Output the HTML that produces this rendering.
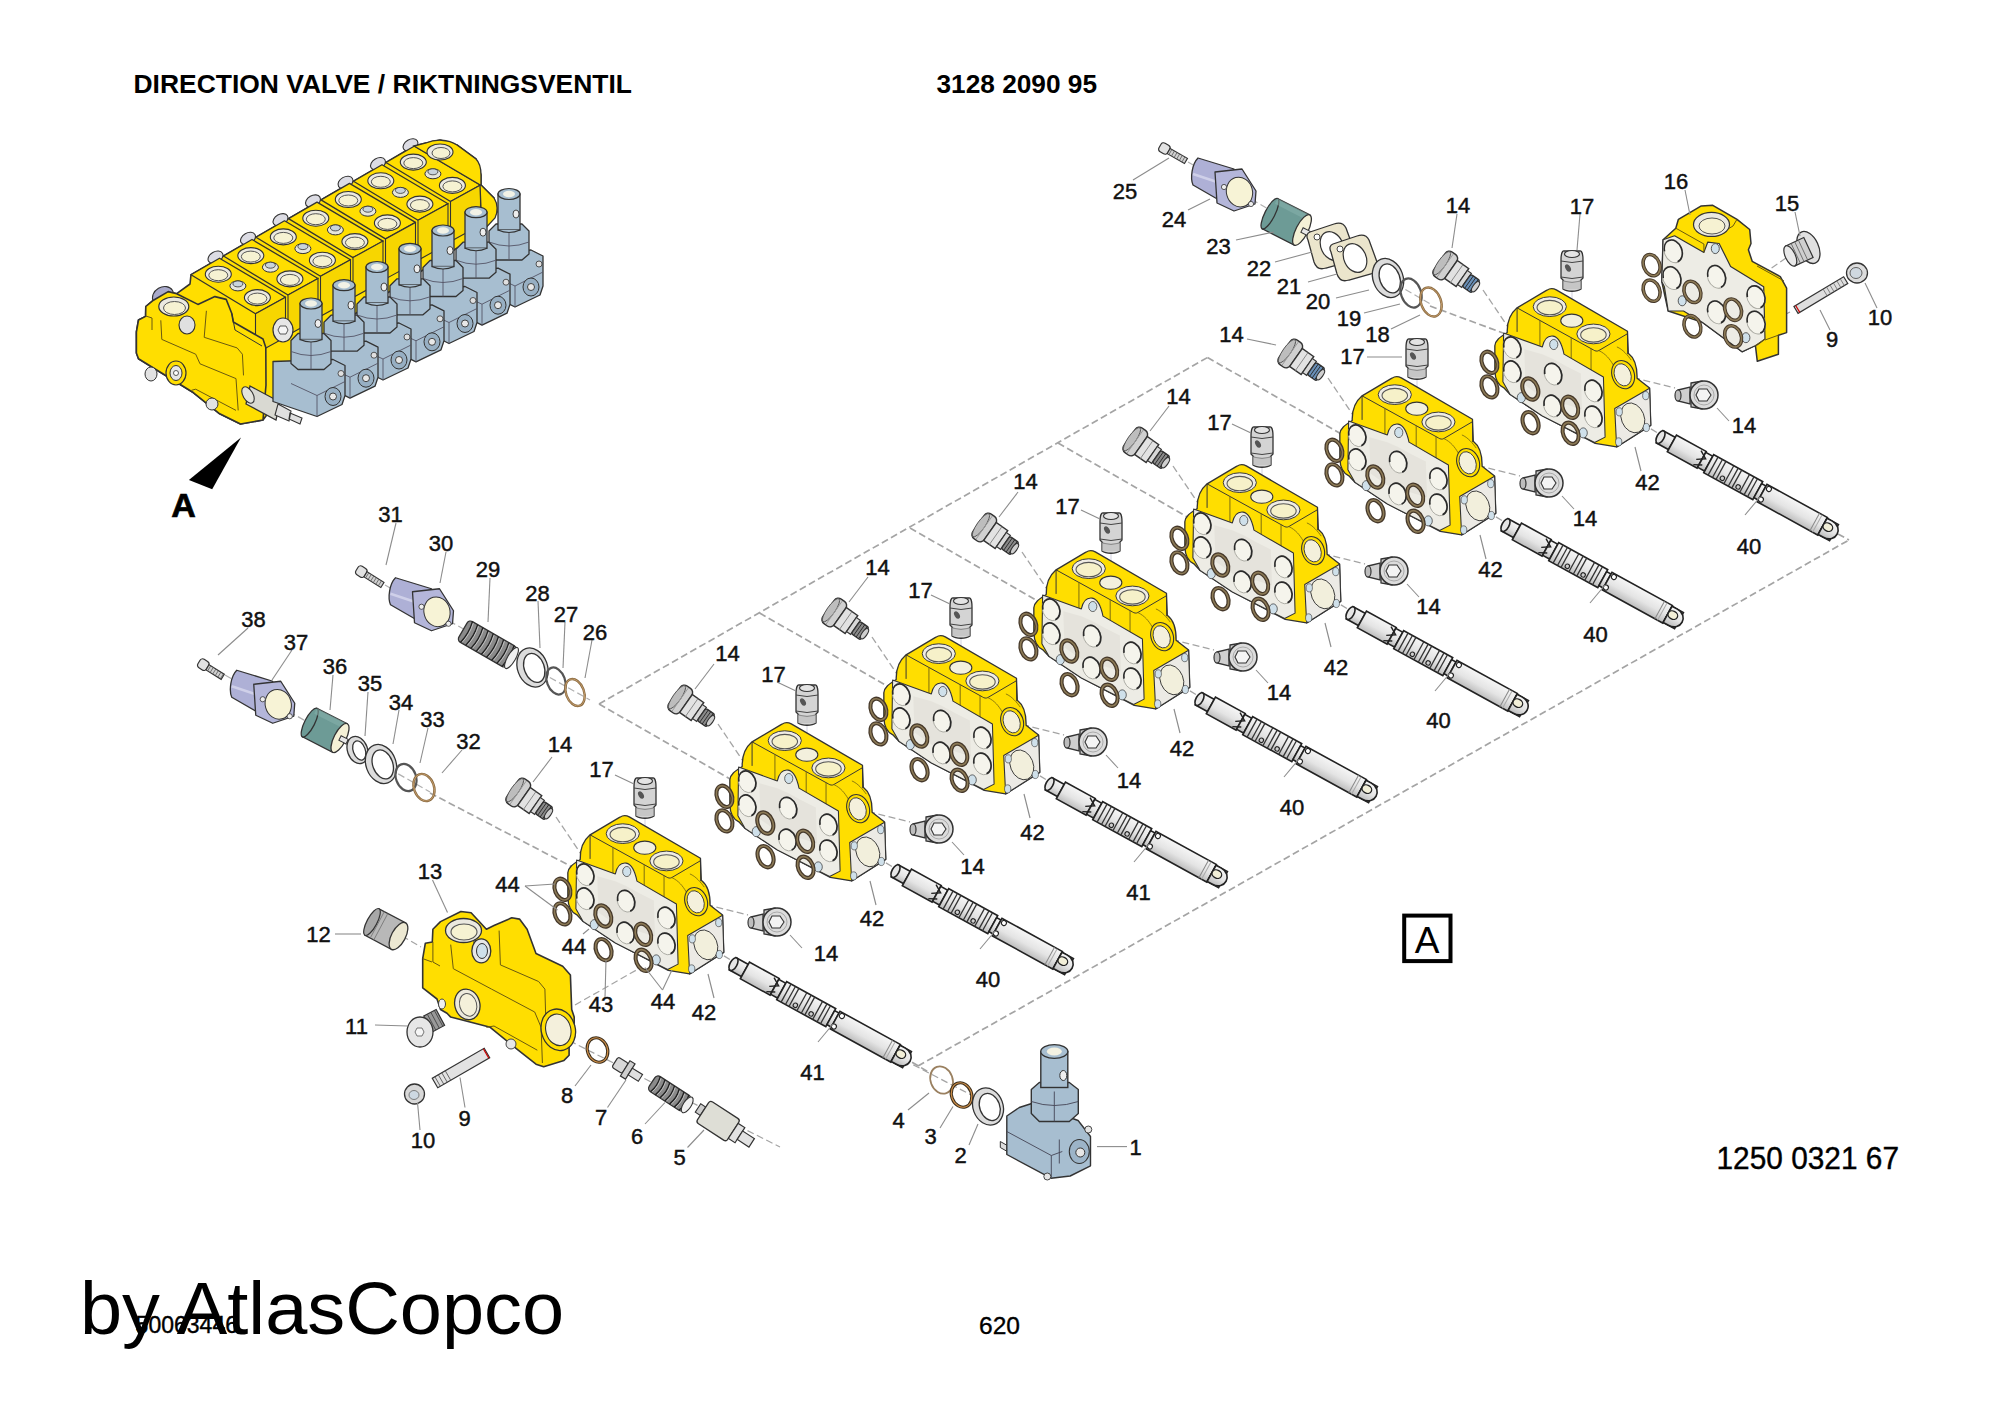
<!DOCTYPE html><html><head><meta charset="utf-8"><style>html,body{margin:0;padding:0;background:#fff}body{width:2000px;height:1414px;position:relative;overflow:hidden}svg{position:absolute;left:0;top:0}</style></head><body><svg width="2000" height="1414" viewBox="0 0 2000 1414" xmlns="http://www.w3.org/2000/svg" font-family="Liberation Sans, sans-serif"><defs><linearGradient id="shg" x1="0" y1="0" x2="0" y2="1"><stop offset="0" stop-color="#f6f6f6"/><stop offset="0.55" stop-color="#e4e4e4"/><stop offset="1" stop-color="#bdbdbd"/></linearGradient><g id="sec" transform="scale(0.12024)"><path d="M165,530 C170,480 215,455 268,420 C265,330 295,262 350,215 L598,68 C622,52 652,52 676,66 L1268,410 L1275,592 C1325,630 1350,700 1348,800 L1452,882 L1462,1192 L1178,1372 L1000,1342 L560,1112 L292,935 L240,880 C195,860 168,810 165,740 Z" fill="#ffde00" stroke="#333" stroke-width="11" stroke-linejoin="round"/><path d="M350,215 L350,415 M350,215 L985,565 C1000,575 1015,578 1030,570 L1268,430 M1268,430 L1270,600" fill="none" stroke="#333" stroke-width="8"/><path d="M540,320 L540,535 M800,462 L800,690 M965,552 L965,770" fill="none" stroke="#7a6a10" stroke-width="8"/><path d="M1030,570 C1090,600 1120,640 1150,690 M1180,540 C1230,560 1270,610 1300,650" fill="none" stroke="#7a6a10" stroke-width="7"/><ellipse cx="622" cy="205" rx="138" ry="82" fill="#efece4" stroke="#333" stroke-width="8"/><ellipse cx="622" cy="213" rx="106" ry="60" fill="#f6f1c9" stroke="#555" stroke-width="9"/><ellipse cx="985" cy="432" rx="138" ry="82" fill="#efece4" stroke="#333" stroke-width="8"/><ellipse cx="985" cy="440" rx="106" ry="60" fill="#f6f1c9" stroke="#555" stroke-width="9"/><ellipse cx="805" cy="322" rx="92" ry="55" fill="#f3f0dd" stroke="#333" stroke-width="9"/><ellipse cx="1232" cy="770" rx="92" ry="120" transform="rotate(-20 1232 770)" fill="#ffde00" stroke="#333" stroke-width="9"/><ellipse cx="1228" cy="772" rx="68" ry="95" transform="rotate(-20 1228 772)" fill="#f4f0dc" stroke="#333" stroke-width="7"/><path d="M238,425 L560,540 C575,470 610,445 650,450 C695,458 720,500 740,600 L1068,790 L1082,1290 L995,1335 L560,1115 L292,935 L232,830 Z" fill="#edece5" stroke="#333" stroke-width="9" stroke-linejoin="round"/><path d="M410,560 L560,600 L650,640 L760,700 L880,760 L890,1060 L700,1000 L560,960 L420,860 Z" fill="#d8d5cb" opacity="0.35"/><path d="M1162,1052 L1452,884 L1462,1192 L1178,1372 Z" fill="#eceae5" stroke="#333" stroke-width="9" stroke-linejoin="round"/><ellipse cx="1312" cy="1130" rx="95" ry="128" transform="rotate(-22 1312 1130)" fill="#f2efdc" stroke="#333" stroke-width="7"/><ellipse cx="1200" cy="1080" rx="26" ry="34" fill="#cfe0ea" stroke="#333" stroke-width="5"/><ellipse cx="1420" cy="945" rx="26" ry="34" fill="#cfe0ea" stroke="#333" stroke-width="5"/><ellipse cx="1425" cy="1210" rx="26" ry="34" fill="#cfe0ea" stroke="#333" stroke-width="5"/><ellipse cx="1195" cy="1330" rx="26" ry="34" fill="#cfe0ea" stroke="#333" stroke-width="5"/><ellipse cx="310" cy="545" rx="72" ry="95" transform="rotate(-22 310 545)" fill="#f5f4ec" stroke="#a8a8a0" stroke-width="7"/><ellipse cx="310" cy="545" rx="68" ry="91" transform="rotate(-22 310 545)" fill="none" stroke="#2a2a2a" stroke-width="14" pathLength="100" stroke-dasharray="25 30 45 0"/><ellipse cx="310" cy="745" rx="72" ry="95" transform="rotate(-22 310 745)" fill="#f5f4ec" stroke="#a8a8a0" stroke-width="7"/><ellipse cx="310" cy="745" rx="68" ry="91" transform="rotate(-22 310 745)" fill="none" stroke="#2a2a2a" stroke-width="14" pathLength="100" stroke-dasharray="25 30 45 0"/><ellipse cx="650" cy="765" rx="72" ry="95" transform="rotate(-22 650 765)" fill="#f5f4ec" stroke="#a8a8a0" stroke-width="7"/><ellipse cx="650" cy="765" rx="68" ry="91" transform="rotate(-22 650 765)" fill="none" stroke="#2a2a2a" stroke-width="14" pathLength="100" stroke-dasharray="25 30 45 0"/><ellipse cx="645" cy="1030" rx="72" ry="95" transform="rotate(-22 645 1030)" fill="#f5f4ec" stroke="#a8a8a0" stroke-width="7"/><ellipse cx="645" cy="1030" rx="68" ry="91" transform="rotate(-22 645 1030)" fill="none" stroke="#2a2a2a" stroke-width="14" pathLength="100" stroke-dasharray="25 30 45 0"/><ellipse cx="985" cy="905" rx="72" ry="95" transform="rotate(-22 985 905)" fill="#f5f4ec" stroke="#a8a8a0" stroke-width="7"/><ellipse cx="985" cy="905" rx="68" ry="91" transform="rotate(-22 985 905)" fill="none" stroke="#2a2a2a" stroke-width="14" pathLength="100" stroke-dasharray="25 30 45 0"/><ellipse cx="985" cy="1120" rx="72" ry="95" transform="rotate(-22 985 1120)" fill="#f5f4ec" stroke="#a8a8a0" stroke-width="7"/><ellipse cx="985" cy="1120" rx="68" ry="91" transform="rotate(-22 985 1120)" fill="none" stroke="#2a2a2a" stroke-width="14" pathLength="100" stroke-dasharray="25 30 45 0"/><ellipse cx="655" cy="520" rx="34" ry="42" fill="#cfe0ea" stroke="#333" stroke-width="6"/><ellipse cx="385" cy="962" rx="34" ry="42" fill="#cfe0ea" stroke="#333" stroke-width="6"/><ellipse cx="900" cy="1255" rx="34" ry="42" fill="#cfe0ea" stroke="#333" stroke-width="6"/><ellipse cx="120" cy="668" rx="62" ry="92" transform="rotate(-22 120 668)" fill="none" stroke="#45382a" stroke-width="34"/><ellipse cx="120" cy="668" rx="62" ry="92" transform="rotate(-22 120 668)" fill="none" stroke="#8c7a56" stroke-width="13"/><ellipse cx="120" cy="872" rx="62" ry="92" transform="rotate(-22 120 872)" fill="none" stroke="#45382a" stroke-width="34"/><ellipse cx="120" cy="872" rx="62" ry="92" transform="rotate(-22 120 872)" fill="none" stroke="#8c7a56" stroke-width="13"/><ellipse cx="460" cy="890" rx="62" ry="92" transform="rotate(-22 460 890)" fill="none" stroke="#45382a" stroke-width="34"/><ellipse cx="460" cy="890" rx="62" ry="92" transform="rotate(-22 460 890)" fill="none" stroke="#8c7a56" stroke-width="13"/><ellipse cx="792" cy="1042" rx="62" ry="92" transform="rotate(-22 792 1042)" fill="none" stroke="#45382a" stroke-width="34"/><ellipse cx="792" cy="1042" rx="62" ry="92" transform="rotate(-22 792 1042)" fill="none" stroke="#8c7a56" stroke-width="13"/><ellipse cx="462" cy="1170" rx="62" ry="92" transform="rotate(-22 462 1170)" fill="none" stroke="#45382a" stroke-width="34"/><ellipse cx="462" cy="1170" rx="62" ry="92" transform="rotate(-22 462 1170)" fill="none" stroke="#8c7a56" stroke-width="13"/><ellipse cx="795" cy="1258" rx="62" ry="92" transform="rotate(-22 795 1258)" fill="none" stroke="#45382a" stroke-width="34"/><ellipse cx="795" cy="1258" rx="62" ry="92" transform="rotate(-22 795 1258)" fill="none" stroke="#8c7a56" stroke-width="13"/></g><g id="shaft"><rect x="0" y="-6.2" width="14" height="14" fill="url(#shg)" stroke="#222" stroke-width="1.6"/><rect x="14" y="-8.7" width="34" height="19.0" fill="url(#shg)" stroke="#222" stroke-width="1.6"/><rect x="48" y="-7.7" width="8" height="17.0" fill="url(#shg)" stroke="#222" stroke-width="1.6"/><rect x="56" y="-9.5" width="56" height="20.6" fill="url(#shg)" stroke="#222" stroke-width="1.6"/><rect x="112" y="-7.2" width="5" height="16" fill="url(#shg)" stroke="#222" stroke-width="1.6"/><rect x="117" y="-9.2" width="69" height="20" fill="url(#shg)" stroke="#222" stroke-width="1.6"/><rect x="186" y="-8.399999999999999" width="13" height="18.4" fill="url(#shg)" stroke="#222" stroke-width="1.6"/><ellipse cx="1" cy="0.8" rx="3.5" ry="7" fill="#e6e6e6" stroke="#222" stroke-width="1.6"/><path d="M186,-8.4 L192,-8.4 C206,-8.4 206,10 192,10 L186,10 Z" fill="url(#shg)" stroke="#222" stroke-width="1.6"/><line x1="61" y1="-9.5" x2="61" y2="11.1" stroke="#333" stroke-width="1.3"/><line x1="66" y1="-9.5" x2="66" y2="11.1" stroke="#333" stroke-width="1.3"/><line x1="70" y1="-9.5" x2="70" y2="11.1" stroke="#333" stroke-width="1.3"/><line x1="79" y1="-9.5" x2="79" y2="11.1" stroke="#333" stroke-width="1.3"/><line x1="84" y1="-9.5" x2="84" y2="11.1" stroke="#333" stroke-width="1.3"/><line x1="88" y1="-9.5" x2="88" y2="11.1" stroke="#333" stroke-width="1.3"/><line x1="97" y1="-9.5" x2="97" y2="11.1" stroke="#333" stroke-width="1.3"/><line x1="102" y1="-9.5" x2="102" y2="11.1" stroke="#333" stroke-width="1.3"/><line x1="106" y1="-9.5" x2="106" y2="11.1" stroke="#333" stroke-width="1.3"/><path d="M43,-7 L51,-2 L43,3 M43,9 L51,5" fill="none" stroke="#222" stroke-width="1.4"/><circle cx="75" cy="7" r="2.2" fill="none" stroke="#222" stroke-width="1.1"/><circle cx="93" cy="7" r="2.2" fill="none" stroke="#222" stroke-width="1.1"/><circle cx="121" cy="-6" r="2.5" fill="#fff" stroke="#222" stroke-width="1.1"/><circle cx="119" cy="7" r="2.5" fill="#fff" stroke="#222" stroke-width="1.1"/><line x1="177" y1="-9.2" x2="177" y2="10.8" stroke="#888" stroke-width="1"/><line x1="180" y1="-9.2" x2="180" y2="10.8" stroke="#aaa" stroke-width="1"/><ellipse cx="191" cy="-1" rx="5" ry="4" fill="#f2efd8" stroke="#222" stroke-width="1.3"/></g></defs><g><line x1="599" y1="704" x2="1207.5" y2="357.5" stroke="#a4a4a4" stroke-width="1.7" stroke-dasharray="7 3.5"/><line x1="599" y1="704" x2="739" y2="784" stroke="#a4a4a4" stroke-width="1.7" stroke-dasharray="7 3.5"/><line x1="759.5" y1="613" x2="899.5" y2="693" stroke="#a4a4a4" stroke-width="1.7" stroke-dasharray="7 3.5"/><line x1="910" y1="528" x2="1050" y2="608" stroke="#a4a4a4" stroke-width="1.7" stroke-dasharray="7 3.5"/><line x1="1058" y1="443" x2="1198" y2="523" stroke="#a4a4a4" stroke-width="1.7" stroke-dasharray="7 3.5"/><line x1="1207.5" y1="357.5" x2="1347.5" y2="437.5" stroke="#a4a4a4" stroke-width="1.7" stroke-dasharray="7 3.5"/><line x1="430" y1="793" x2="578" y2="870" stroke="#a4a4a4" stroke-width="1.7" stroke-dasharray="7 3.5"/><line x1="1430" y1="306" x2="1503" y2="333" stroke="#a4a4a4" stroke-width="1.7" stroke-dasharray="7 3.5"/><line x1="918" y1="1066" x2="1849" y2="540" stroke="#a4a4a4" stroke-width="1.7" stroke-dasharray="7 3.5"/><line x1="1838" y1="534" x2="1849" y2="540" stroke="#a4a4a4" stroke-width="1.7" stroke-dasharray="7 3.5"/><line x1="903" y1="1057" x2="932" y2="1074" stroke="#a4a4a4" stroke-width="1.7" stroke-dasharray="7 3.5"/><line x1="385" y1="585" x2="590" y2="700" stroke="#b0b0b0" stroke-width="1.2" stroke-dasharray="7 3.5"/><line x1="225" y1="675" x2="430" y2="792" stroke="#b0b0b0" stroke-width="1.2" stroke-dasharray="7 3.5"/><line x1="1188" y1="162" x2="1432" y2="305" stroke="#b0b0b0" stroke-width="1.2" stroke-dasharray="7 3.5"/><line x1="556" y1="817" x2="583" y2="857" stroke="#a4a4a4" stroke-width="1.3" stroke-dasharray="7 3.5"/><line x1="696" y1="902" x2="748" y2="915" stroke="#a4a4a4" stroke-width="1.3" stroke-dasharray="7 3.5"/><line x1="706" y1="945" x2="734" y2="962" stroke="#a4a4a4" stroke-width="1.3" stroke-dasharray="7 3.5"/><line x1="645" y1="817" x2="645" y2="849" stroke="#ffffff" stroke-width="2.2"/><line x1="645" y1="817" x2="645" y2="849" stroke="#c8c8d8" stroke-width="0.8"/><line x1="718" y1="724" x2="745" y2="764" stroke="#a4a4a4" stroke-width="1.3" stroke-dasharray="7 3.5"/><line x1="858" y1="809" x2="910" y2="822" stroke="#a4a4a4" stroke-width="1.3" stroke-dasharray="7 3.5"/><line x1="868" y1="852" x2="896" y2="869" stroke="#a4a4a4" stroke-width="1.3" stroke-dasharray="7 3.5"/><line x1="807" y1="724" x2="807" y2="756" stroke="#ffffff" stroke-width="2.2"/><line x1="807" y1="724" x2="807" y2="756" stroke="#c8c8d8" stroke-width="0.8"/><line x1="872" y1="637" x2="899" y2="677" stroke="#a4a4a4" stroke-width="1.3" stroke-dasharray="7 3.5"/><line x1="1012" y1="722" x2="1064" y2="735" stroke="#a4a4a4" stroke-width="1.3" stroke-dasharray="7 3.5"/><line x1="1022" y1="765" x2="1050" y2="782" stroke="#a4a4a4" stroke-width="1.3" stroke-dasharray="7 3.5"/><line x1="961" y1="637" x2="961" y2="669" stroke="#ffffff" stroke-width="2.2"/><line x1="961" y1="637" x2="961" y2="669" stroke="#c8c8d8" stroke-width="0.8"/><line x1="1022" y1="552" x2="1049" y2="592" stroke="#a4a4a4" stroke-width="1.3" stroke-dasharray="7 3.5"/><line x1="1162" y1="637" x2="1214" y2="650" stroke="#a4a4a4" stroke-width="1.3" stroke-dasharray="7 3.5"/><line x1="1172" y1="680" x2="1200" y2="697" stroke="#a4a4a4" stroke-width="1.3" stroke-dasharray="7 3.5"/><line x1="1111" y1="552" x2="1111" y2="584" stroke="#ffffff" stroke-width="2.2"/><line x1="1111" y1="552" x2="1111" y2="584" stroke="#c8c8d8" stroke-width="0.8"/><line x1="1173" y1="466" x2="1200" y2="506" stroke="#a4a4a4" stroke-width="1.3" stroke-dasharray="7 3.5"/><line x1="1313" y1="551" x2="1365" y2="564" stroke="#a4a4a4" stroke-width="1.3" stroke-dasharray="7 3.5"/><line x1="1323" y1="594" x2="1351" y2="611" stroke="#a4a4a4" stroke-width="1.3" stroke-dasharray="7 3.5"/><line x1="1262" y1="466" x2="1262" y2="498" stroke="#ffffff" stroke-width="2.2"/><line x1="1262" y1="466" x2="1262" y2="498" stroke="#c8c8d8" stroke-width="0.8"/><line x1="1328" y1="378" x2="1355" y2="418" stroke="#a4a4a4" stroke-width="1.3" stroke-dasharray="7 3.5"/><line x1="1468" y1="463" x2="1520" y2="476" stroke="#a4a4a4" stroke-width="1.3" stroke-dasharray="7 3.5"/><line x1="1478" y1="506" x2="1506" y2="523" stroke="#a4a4a4" stroke-width="1.3" stroke-dasharray="7 3.5"/><line x1="1417" y1="378" x2="1417" y2="410" stroke="#ffffff" stroke-width="2.2"/><line x1="1417" y1="378" x2="1417" y2="410" stroke="#c8c8d8" stroke-width="0.8"/><line x1="1483" y1="290" x2="1510" y2="330" stroke="#a4a4a4" stroke-width="1.3" stroke-dasharray="7 3.5"/><line x1="1623" y1="375" x2="1675" y2="388" stroke="#a4a4a4" stroke-width="1.3" stroke-dasharray="7 3.5"/><line x1="1633" y1="418" x2="1661" y2="435" stroke="#a4a4a4" stroke-width="1.3" stroke-dasharray="7 3.5"/><line x1="1572" y1="290" x2="1572" y2="322" stroke="#ffffff" stroke-width="2.2"/><line x1="1572" y1="290" x2="1572" y2="322" stroke="#c8c8d8" stroke-width="0.8"/><line x1="402" y1="936" x2="421" y2="947" stroke="#a4a4a4" stroke-width="1.2" stroke-dasharray="7 3.5"/><line x1="437" y1="1080" x2="470" y2="1060" stroke="#a4a4a4" stroke-width="1.2" stroke-dasharray="7 3.5"/><line x1="575" y1="1005" x2="640" y2="968" stroke="#a4a4a4" stroke-width="1.2" stroke-dasharray="7 3.5"/><line x1="560" y1="1036" x2="780" y2="1147" stroke="#a4a4a4" stroke-width="1.2" stroke-dasharray="7 3.5"/><line x1="1786" y1="258" x2="1760" y2="276" stroke="#a4a4a4" stroke-width="1.2" stroke-dasharray="7 3.5"/><line x1="1790" y1="312" x2="1778" y2="318" stroke="#a4a4a4" stroke-width="1.2" stroke-dasharray="7 3.5"/><line x1="904" y1="1060" x2="1000" y2="1110" stroke="#a4a4a4" stroke-width="1.2" stroke-dasharray="7 3.5"/></g><polygon points="136.4,332.0 138.5,320.0 145.6,316.4 145.8,306.5 152.6,300.8 168.2,291.6 176.7,293.7 190.0,284.0 191.0,274.7 219.5,258.2 223.5,256.0 252.0,239.5 256.0,237.3 284.5,220.8 288.5,218.6 317.0,202.1 321.0,199.9 349.5,183.4 353.5,181.2 382.0,164.7 386.0,162.5 414.0,146.0 426.0,143.0 440.0,140.0 457.0,145.0 476.0,159.0 481.0,175.0 481.0,185.0 494.0,198.0 497.0,212.0 482.0,232.0 330.0,330.0 263.0,420.0 240.5,424.0 219.7,413.8 193.6,392.8 138.5,358.8 136.4,353.0" fill="#ffde00" stroke="#333" stroke-width="1.6" stroke-linejoin="round"/><ellipse cx="215.5" cy="257.2" rx="8" ry="5.5" transform="rotate(-30 215.5 257.2)" fill="#dcdce4" stroke="#333" stroke-width="1.1"/><ellipse cx="248.0" cy="238.5" rx="8" ry="5.5" transform="rotate(-30 248.0 238.5)" fill="#dcdce4" stroke="#333" stroke-width="1.1"/><ellipse cx="280.5" cy="219.8" rx="8" ry="5.5" transform="rotate(-30 280.5 219.8)" fill="#dcdce4" stroke="#333" stroke-width="1.1"/><ellipse cx="313.0" cy="201.1" rx="8" ry="5.5" transform="rotate(-30 313.0 201.1)" fill="#dcdce4" stroke="#333" stroke-width="1.1"/><ellipse cx="345.5" cy="182.4" rx="8" ry="5.5" transform="rotate(-30 345.5 182.4)" fill="#dcdce4" stroke="#333" stroke-width="1.1"/><ellipse cx="378.0" cy="163.7" rx="8" ry="5.5" transform="rotate(-30 378.0 163.7)" fill="#dcdce4" stroke="#333" stroke-width="1.1"/><ellipse cx="410.5" cy="145.0" rx="8" ry="5.5" transform="rotate(-30 410.5 145.0)" fill="#dcdce4" stroke="#333" stroke-width="1.1"/><polygon points="191.0,274.7 219.5,258.2 285.5,297.2 255.5,313.7" fill="#ffde00" stroke="#333" stroke-width="1.3" stroke-linejoin="round"/><polygon points="255.5,313.7 285.5,297.2 285.5,337.2 255.5,353.7" fill="#f7d600" stroke="#333" stroke-width="1.1"/><ellipse cx="218.3" cy="274.2" rx="13" ry="8" fill="#ebe9e0" stroke="#333" stroke-width="1.1"/><ellipse cx="218.3" cy="275.2" rx="9.5" ry="5.5" fill="#f6f2d2" stroke="#555" stroke-width="1"/><ellipse cx="237.9" cy="285.9" rx="8" ry="5" fill="#e6e6dc" stroke="#333" stroke-width="1"/><ellipse cx="237.9" cy="283.9" rx="5" ry="3" fill="#c9d4dc" stroke="#333" stroke-width="0.8"/><ellipse cx="257.4" cy="297.6" rx="13" ry="8" fill="#ebe9e0" stroke="#333" stroke-width="1.1"/><ellipse cx="257.4" cy="298.6" rx="9.5" ry="5.5" fill="#f6f2d2" stroke="#555" stroke-width="1"/><polygon points="223.5,256.0 252.0,239.5 318.0,278.5 288.0,295.0" fill="#ffde00" stroke="#333" stroke-width="1.3" stroke-linejoin="round"/><polygon points="288.0,295.0 318.0,278.5 318.0,318.5 288.0,335.0" fill="#f7d600" stroke="#333" stroke-width="1.1"/><ellipse cx="250.8" cy="255.6" rx="13" ry="8" fill="#ebe9e0" stroke="#333" stroke-width="1.1"/><ellipse cx="250.8" cy="256.6" rx="9.5" ry="5.5" fill="#f6f2d2" stroke="#555" stroke-width="1"/><ellipse cx="270.4" cy="267.2" rx="8" ry="5" fill="#e6e6dc" stroke="#333" stroke-width="1"/><ellipse cx="270.4" cy="265.2" rx="5" ry="3" fill="#c9d4dc" stroke="#333" stroke-width="0.8"/><ellipse cx="289.9" cy="278.9" rx="13" ry="8" fill="#ebe9e0" stroke="#333" stroke-width="1.1"/><ellipse cx="289.9" cy="279.9" rx="9.5" ry="5.5" fill="#f6f2d2" stroke="#555" stroke-width="1"/><polygon points="256.0,237.3 284.5,220.8 350.5,259.8 320.5,276.3" fill="#ffde00" stroke="#333" stroke-width="1.3" stroke-linejoin="round"/><polygon points="320.5,276.3 350.5,259.8 350.5,299.8 320.5,316.3" fill="#f7d600" stroke="#333" stroke-width="1.1"/><ellipse cx="283.3" cy="236.9" rx="13" ry="8" fill="#ebe9e0" stroke="#333" stroke-width="1.1"/><ellipse cx="283.3" cy="237.9" rx="9.5" ry="5.5" fill="#f6f2d2" stroke="#555" stroke-width="1"/><ellipse cx="302.9" cy="248.6" rx="8" ry="5" fill="#e6e6dc" stroke="#333" stroke-width="1"/><ellipse cx="302.9" cy="246.6" rx="5" ry="3" fill="#c9d4dc" stroke="#333" stroke-width="0.8"/><ellipse cx="322.4" cy="260.2" rx="13" ry="8" fill="#ebe9e0" stroke="#333" stroke-width="1.1"/><ellipse cx="322.4" cy="261.2" rx="9.5" ry="5.5" fill="#f6f2d2" stroke="#555" stroke-width="1"/><polygon points="288.5,218.6 317.0,202.1 383.0,241.1 353.0,257.6" fill="#ffde00" stroke="#333" stroke-width="1.3" stroke-linejoin="round"/><polygon points="353.0,257.6 383.0,241.1 383.0,281.1 353.0,297.6" fill="#f7d600" stroke="#333" stroke-width="1.1"/><ellipse cx="315.8" cy="218.2" rx="13" ry="8" fill="#ebe9e0" stroke="#333" stroke-width="1.1"/><ellipse cx="315.8" cy="219.2" rx="9.5" ry="5.5" fill="#f6f2d2" stroke="#555" stroke-width="1"/><ellipse cx="335.4" cy="229.9" rx="8" ry="5" fill="#e6e6dc" stroke="#333" stroke-width="1"/><ellipse cx="335.4" cy="227.9" rx="5" ry="3" fill="#c9d4dc" stroke="#333" stroke-width="0.8"/><ellipse cx="354.9" cy="241.6" rx="13" ry="8" fill="#ebe9e0" stroke="#333" stroke-width="1.1"/><ellipse cx="354.9" cy="242.6" rx="9.5" ry="5.5" fill="#f6f2d2" stroke="#555" stroke-width="1"/><polygon points="321.0,199.9 349.5,183.4 415.5,222.4 385.5,238.9" fill="#ffde00" stroke="#333" stroke-width="1.3" stroke-linejoin="round"/><polygon points="385.5,238.9 415.5,222.4 415.5,262.4 385.5,278.9" fill="#f7d600" stroke="#333" stroke-width="1.1"/><ellipse cx="348.3" cy="199.5" rx="13" ry="8" fill="#ebe9e0" stroke="#333" stroke-width="1.1"/><ellipse cx="348.3" cy="200.5" rx="9.5" ry="5.5" fill="#f6f2d2" stroke="#555" stroke-width="1"/><ellipse cx="367.9" cy="211.2" rx="8" ry="5" fill="#e6e6dc" stroke="#333" stroke-width="1"/><ellipse cx="367.9" cy="209.2" rx="5" ry="3" fill="#c9d4dc" stroke="#333" stroke-width="0.8"/><ellipse cx="387.4" cy="222.9" rx="13" ry="8" fill="#ebe9e0" stroke="#333" stroke-width="1.1"/><ellipse cx="387.4" cy="223.9" rx="9.5" ry="5.5" fill="#f6f2d2" stroke="#555" stroke-width="1"/><polygon points="353.5,181.2 382.0,164.7 448.0,203.7 418.0,220.2" fill="#ffde00" stroke="#333" stroke-width="1.3" stroke-linejoin="round"/><polygon points="418.0,220.2 448.0,203.7 448.0,243.7 418.0,260.2" fill="#f7d600" stroke="#333" stroke-width="1.1"/><ellipse cx="380.8" cy="180.8" rx="13" ry="8" fill="#ebe9e0" stroke="#333" stroke-width="1.1"/><ellipse cx="380.8" cy="181.8" rx="9.5" ry="5.5" fill="#f6f2d2" stroke="#555" stroke-width="1"/><ellipse cx="400.4" cy="192.4" rx="8" ry="5" fill="#e6e6dc" stroke="#333" stroke-width="1"/><ellipse cx="400.4" cy="190.4" rx="5" ry="3" fill="#c9d4dc" stroke="#333" stroke-width="0.8"/><ellipse cx="419.9" cy="204.1" rx="13" ry="8" fill="#ebe9e0" stroke="#333" stroke-width="1.1"/><ellipse cx="419.9" cy="205.1" rx="9.5" ry="5.5" fill="#f6f2d2" stroke="#555" stroke-width="1"/><polygon points="386.0,162.5 414.5,146.0 480.5,185.0 450.5,201.5" fill="#ffde00" stroke="#333" stroke-width="1.3" stroke-linejoin="round"/><polygon points="450.5,201.5 480.5,185.0 480.5,225.0 450.5,241.5" fill="#f7d600" stroke="#333" stroke-width="1.1"/><ellipse cx="413.3" cy="162.1" rx="13" ry="8" fill="#ebe9e0" stroke="#333" stroke-width="1.1"/><ellipse cx="413.3" cy="163.1" rx="9.5" ry="5.5" fill="#f6f2d2" stroke="#555" stroke-width="1"/><ellipse cx="432.9" cy="173.8" rx="8" ry="5" fill="#e6e6dc" stroke="#333" stroke-width="1"/><ellipse cx="432.9" cy="171.8" rx="5" ry="3" fill="#c9d4dc" stroke="#333" stroke-width="0.8"/><ellipse cx="452.4" cy="185.4" rx="13" ry="8" fill="#ebe9e0" stroke="#333" stroke-width="1.1"/><ellipse cx="452.4" cy="186.4" rx="9.5" ry="5.5" fill="#f6f2d2" stroke="#555" stroke-width="1"/><path d="M414,146 L426,143 C435,139 448,139 457,145 L476,159 C480,163 481,168 481,175 L481,185 L494,198 C498,204 498,212 495,218 L482,232 L480,185 Z" fill="#ffde00" stroke="#333" stroke-width="1.3"/><ellipse cx="440" cy="152" rx="13" ry="8" fill="#ebe9e0" stroke="#333" stroke-width="1.1"/><ellipse cx="441" cy="153" rx="9" ry="5.5" fill="#f6f2d2" stroke="#555" stroke-width="1"/><ellipse cx="163" cy="296" rx="11" ry="9" transform="rotate(-30 163 296)" fill="#a9aacb" stroke="#333" stroke-width="1.1"/><polygon points="136.4,332.0 138.5,320.0 145.6,316.4 145.8,306.5 152.6,300.8 168.2,291.6 176.7,293.7 197.9,304.4 214.9,296.6 226.2,299.4 231.8,313.5 233.3,322.0 263.0,339.0 265.8,347.5 266.0,385.0 263.0,420.0 240.5,424.0 219.7,413.8 193.6,392.8 138.5,358.8 136.4,353.0" fill="#ffde00" stroke="#333" stroke-width="1.6" stroke-linejoin="round"/><path d="M160.8,320.3 L161.8,339.4 L195.7,354.2 L200,363.8 L236,378.6 L238.2,410.4 M206.4,310.8 L204.2,337.3 L237.1,347.9 L242.4,354.2 L243.5,375.4 M191.5,390.3 L195.7,389.2 L236,410.4 M145.8,316 L152,318 L152,330" fill="none" stroke="#6a5a10" stroke-width="1"/><path d="M231.8,313.5 L235,330 L262,346" fill="none" stroke="#333" stroke-width="1"/><ellipse cx="173.8" cy="306.5" rx="15" ry="9.5" fill="#ebe9e0" stroke="#333" stroke-width="1.2"/><ellipse cx="174.5" cy="308" rx="11" ry="6.5" fill="#f6f2d2" stroke="#555" stroke-width="1"/><ellipse cx="187" cy="325" rx="8" ry="9" fill="#e0e0e0" stroke="#333" stroke-width="1.1"/><ellipse cx="176" cy="373" rx="10" ry="12" fill="#ffde00" stroke="#333" stroke-width="1.2"/><ellipse cx="176" cy="373" rx="6" ry="7.5" fill="#e6e6e6" stroke="#333" stroke-width="1"/><circle cx="176" cy="373" r="2.5" fill="#fff" stroke="#333" stroke-width="0.8"/><ellipse cx="151" cy="374" rx="6" ry="7" fill="#e2e2e2" stroke="#333" stroke-width="1"/><ellipse cx="212" cy="404" rx="6" ry="6" fill="#e2e2e2" stroke="#333" stroke-width="1"/><ellipse cx="283" cy="330" rx="10" ry="12" fill="#e6e6e6" stroke="#333" stroke-width="1.2"/><path d="M280,326 L286,326 L288,330 L286,334 L280,334 L278,330 Z" fill="#f5f5f5" stroke="#333" stroke-width="0.8"/><path d="M250,386 L280,402 L276,420 L246,404 Z" fill="#d9d9d2" stroke="#333" stroke-width="1.3"/><ellipse cx="248" cy="395" rx="5" ry="9" transform="rotate(-30 248 395)" fill="#e4e4dc" stroke="#333" stroke-width="1.1"/><path d="M278,404 L291,411 L289,421 L275,415 Z M290,413 L302,418 L300,424 L289,419 Z" fill="#e0e0e0" stroke="#333" stroke-width="1.1"/><polygon points="489.0,254.0 489.0,294.0 515.0,307.0 540.0,295.0 543.0,286.0 543.0,256.0 531.0,250.0" fill="#a7bed0" stroke="#333" stroke-width="1.3" stroke-linejoin="round"/><path d="M489.0,274.0 L515.0,286.0 L543.0,272.0 M515.0,286.0 L515.0,307.0" fill="none" stroke="#556" stroke-width="0.9"/><ellipse cx="531.0" cy="287.0" rx="8" ry="9" fill="#97afc3" stroke="#333" stroke-width="1"/><circle cx="531.0" cy="287.0" r="3.5" fill="#e8e8e8" stroke="#333" stroke-width="0.9"/><circle cx="539.0" cy="264.0" r="3" fill="#e0e0e0" stroke="#333" stroke-width="0.8"/><polygon points="489.0,231.0 496.0,224.0 522.0,224.0 529.0,231.0 529.0,254.0 522.0,260.0 496.0,260.0 489.0,254.0" fill="#a7bed0" stroke="#333" stroke-width="1.3" stroke-linejoin="round"/><path d="M489.0,242.0 Q509.0,250.0 529.0,242.0 M509.0,232.0 L509.0,260.0" fill="none" stroke="#556" stroke-width="0.9"/><rect x="498.0" y="194.0" width="22" height="36" fill="#a7bed0" stroke="#333" stroke-width="1.3"/><path d="M498.0,230.0 Q509.0,235.0 520.0,230.0" fill="#a7bed0" stroke="#333" stroke-width="1.1"/><ellipse cx="509.0" cy="194.0" rx="11" ry="5.5" fill="#a7bed0" stroke="#333" stroke-width="1.2"/><ellipse cx="509.0" cy="194.0" rx="6" ry="3.2" fill="#f2f2e6"/><ellipse cx="516.0" cy="214.0" rx="3" ry="4" fill="#eeeeee" stroke="#333" stroke-width="0.9"/><polygon points="456.0,272.2 456.0,312.2 482.0,325.2 507.0,313.2 510.0,304.2 510.0,274.2 498.0,268.2" fill="#a7bed0" stroke="#333" stroke-width="1.3" stroke-linejoin="round"/><path d="M456.0,292.2 L482.0,304.2 L510.0,290.2 M482.0,304.2 L482.0,325.2" fill="none" stroke="#556" stroke-width="0.9"/><ellipse cx="498.0" cy="305.2" rx="8" ry="9" fill="#97afc3" stroke="#333" stroke-width="1"/><circle cx="498.0" cy="305.2" r="3.5" fill="#e8e8e8" stroke="#333" stroke-width="0.9"/><circle cx="506.0" cy="282.2" r="3" fill="#e0e0e0" stroke="#333" stroke-width="0.8"/><polygon points="456.0,249.2 463.0,242.2 489.0,242.2 496.0,249.2 496.0,272.2 489.0,278.2 463.0,278.2 456.0,272.2" fill="#a7bed0" stroke="#333" stroke-width="1.3" stroke-linejoin="round"/><path d="M456.0,260.2 Q476.0,268.2 496.0,260.2 M476.0,250.2 L476.0,278.2" fill="none" stroke="#556" stroke-width="0.9"/><rect x="465.0" y="212.2" width="22" height="36" fill="#a7bed0" stroke="#333" stroke-width="1.3"/><path d="M465.0,248.2 Q476.0,253.2 487.0,248.2" fill="#a7bed0" stroke="#333" stroke-width="1.1"/><ellipse cx="476.0" cy="212.2" rx="11" ry="5.5" fill="#a7bed0" stroke="#333" stroke-width="1.2"/><ellipse cx="476.0" cy="212.2" rx="6" ry="3.2" fill="#f2f2e6"/><ellipse cx="483.0" cy="232.2" rx="3" ry="4" fill="#eeeeee" stroke="#333" stroke-width="0.9"/><polygon points="423.0,290.5 423.0,330.5 449.0,343.5 474.0,331.5 477.0,322.5 477.0,292.5 465.0,286.5" fill="#a7bed0" stroke="#333" stroke-width="1.3" stroke-linejoin="round"/><path d="M423.0,310.5 L449.0,322.5 L477.0,308.5 M449.0,322.5 L449.0,343.5" fill="none" stroke="#556" stroke-width="0.9"/><ellipse cx="465.0" cy="323.5" rx="8" ry="9" fill="#97afc3" stroke="#333" stroke-width="1"/><circle cx="465.0" cy="323.5" r="3.5" fill="#e8e8e8" stroke="#333" stroke-width="0.9"/><circle cx="473.0" cy="300.5" r="3" fill="#e0e0e0" stroke="#333" stroke-width="0.8"/><polygon points="423.0,267.5 430.0,260.5 456.0,260.5 463.0,267.5 463.0,290.5 456.0,296.5 430.0,296.5 423.0,290.5" fill="#a7bed0" stroke="#333" stroke-width="1.3" stroke-linejoin="round"/><path d="M423.0,278.5 Q443.0,286.5 463.0,278.5 M443.0,268.5 L443.0,296.5" fill="none" stroke="#556" stroke-width="0.9"/><rect x="432.0" y="230.5" width="22" height="36" fill="#a7bed0" stroke="#333" stroke-width="1.3"/><path d="M432.0,266.5 Q443.0,271.5 454.0,266.5" fill="#a7bed0" stroke="#333" stroke-width="1.1"/><ellipse cx="443.0" cy="230.5" rx="11" ry="5.5" fill="#a7bed0" stroke="#333" stroke-width="1.2"/><ellipse cx="443.0" cy="230.5" rx="6" ry="3.2" fill="#f2f2e6"/><ellipse cx="450.0" cy="250.5" rx="3" ry="4" fill="#eeeeee" stroke="#333" stroke-width="0.9"/><polygon points="390.0,308.8 390.0,348.8 416.0,361.8 441.0,349.8 444.0,340.8 444.0,310.8 432.0,304.8" fill="#a7bed0" stroke="#333" stroke-width="1.3" stroke-linejoin="round"/><path d="M390.0,328.8 L416.0,340.8 L444.0,326.8 M416.0,340.8 L416.0,361.8" fill="none" stroke="#556" stroke-width="0.9"/><ellipse cx="432.0" cy="341.8" rx="8" ry="9" fill="#97afc3" stroke="#333" stroke-width="1"/><circle cx="432.0" cy="341.8" r="3.5" fill="#e8e8e8" stroke="#333" stroke-width="0.9"/><circle cx="440.0" cy="318.8" r="3" fill="#e0e0e0" stroke="#333" stroke-width="0.8"/><polygon points="390.0,285.8 397.0,278.8 423.0,278.8 430.0,285.8 430.0,308.8 423.0,314.8 397.0,314.8 390.0,308.8" fill="#a7bed0" stroke="#333" stroke-width="1.3" stroke-linejoin="round"/><path d="M390.0,296.8 Q410.0,304.8 430.0,296.8 M410.0,286.8 L410.0,314.8" fill="none" stroke="#556" stroke-width="0.9"/><rect x="399.0" y="248.8" width="22" height="36" fill="#a7bed0" stroke="#333" stroke-width="1.3"/><path d="M399.0,284.8 Q410.0,289.8 421.0,284.8" fill="#a7bed0" stroke="#333" stroke-width="1.1"/><ellipse cx="410.0" cy="248.8" rx="11" ry="5.5" fill="#a7bed0" stroke="#333" stroke-width="1.2"/><ellipse cx="410.0" cy="248.8" rx="6" ry="3.2" fill="#f2f2e6"/><ellipse cx="417.0" cy="268.8" rx="3" ry="4" fill="#eeeeee" stroke="#333" stroke-width="0.9"/><polygon points="357.0,327.0 357.0,367.0 383.0,380.0 408.0,368.0 411.0,359.0 411.0,329.0 399.0,323.0" fill="#a7bed0" stroke="#333" stroke-width="1.3" stroke-linejoin="round"/><path d="M357.0,347.0 L383.0,359.0 L411.0,345.0 M383.0,359.0 L383.0,380.0" fill="none" stroke="#556" stroke-width="0.9"/><ellipse cx="399.0" cy="360.0" rx="8" ry="9" fill="#97afc3" stroke="#333" stroke-width="1"/><circle cx="399.0" cy="360.0" r="3.5" fill="#e8e8e8" stroke="#333" stroke-width="0.9"/><circle cx="407.0" cy="337.0" r="3" fill="#e0e0e0" stroke="#333" stroke-width="0.8"/><polygon points="357.0,304.0 364.0,297.0 390.0,297.0 397.0,304.0 397.0,327.0 390.0,333.0 364.0,333.0 357.0,327.0" fill="#a7bed0" stroke="#333" stroke-width="1.3" stroke-linejoin="round"/><path d="M357.0,315.0 Q377.0,323.0 397.0,315.0 M377.0,305.0 L377.0,333.0" fill="none" stroke="#556" stroke-width="0.9"/><rect x="366.0" y="267.0" width="22" height="36" fill="#a7bed0" stroke="#333" stroke-width="1.3"/><path d="M366.0,303.0 Q377.0,308.0 388.0,303.0" fill="#a7bed0" stroke="#333" stroke-width="1.1"/><ellipse cx="377.0" cy="267.0" rx="11" ry="5.5" fill="#a7bed0" stroke="#333" stroke-width="1.2"/><ellipse cx="377.0" cy="267.0" rx="6" ry="3.2" fill="#f2f2e6"/><ellipse cx="384.0" cy="287.0" rx="3" ry="4" fill="#eeeeee" stroke="#333" stroke-width="0.9"/><polygon points="324.0,345.2 324.0,385.2 350.0,398.2 375.0,386.2 378.0,377.2 378.0,347.2 366.0,341.2" fill="#a7bed0" stroke="#333" stroke-width="1.3" stroke-linejoin="round"/><path d="M324.0,365.2 L350.0,377.2 L378.0,363.2 M350.0,377.2 L350.0,398.2" fill="none" stroke="#556" stroke-width="0.9"/><ellipse cx="366.0" cy="378.2" rx="8" ry="9" fill="#97afc3" stroke="#333" stroke-width="1"/><circle cx="366.0" cy="378.2" r="3.5" fill="#e8e8e8" stroke="#333" stroke-width="0.9"/><circle cx="374.0" cy="355.2" r="3" fill="#e0e0e0" stroke="#333" stroke-width="0.8"/><polygon points="324.0,322.2 331.0,315.2 357.0,315.2 364.0,322.2 364.0,345.2 357.0,351.2 331.0,351.2 324.0,345.2" fill="#a7bed0" stroke="#333" stroke-width="1.3" stroke-linejoin="round"/><path d="M324.0,333.2 Q344.0,341.2 364.0,333.2 M344.0,323.2 L344.0,351.2" fill="none" stroke="#556" stroke-width="0.9"/><rect x="333.0" y="285.2" width="22" height="36" fill="#a7bed0" stroke="#333" stroke-width="1.3"/><path d="M333.0,321.2 Q344.0,326.2 355.0,321.2" fill="#a7bed0" stroke="#333" stroke-width="1.1"/><ellipse cx="344.0" cy="285.2" rx="11" ry="5.5" fill="#a7bed0" stroke="#333" stroke-width="1.2"/><ellipse cx="344.0" cy="285.2" rx="6" ry="3.2" fill="#f2f2e6"/><ellipse cx="351.0" cy="305.2" rx="3" ry="4" fill="#eeeeee" stroke="#333" stroke-width="0.9"/><polygon points="273.0,361.5 273.0,401.5 317.0,416.5 342.0,404.5 345.0,395.5 345.0,365.5 333.0,359.5" fill="#a7bed0" stroke="#333" stroke-width="1.3" stroke-linejoin="round"/><path d="M291.0,383.5 L317.0,395.5 L345.0,381.5 M317.0,395.5 L317.0,416.5" fill="none" stroke="#556" stroke-width="0.9"/><ellipse cx="333.0" cy="396.5" rx="8" ry="9" fill="#97afc3" stroke="#333" stroke-width="1"/><circle cx="333.0" cy="396.5" r="3.5" fill="#e8e8e8" stroke="#333" stroke-width="0.9"/><circle cx="341.0" cy="373.5" r="3" fill="#e0e0e0" stroke="#333" stroke-width="0.8"/><polygon points="291.0,340.5 298.0,333.5 324.0,333.5 331.0,340.5 331.0,363.5 324.0,369.5 298.0,369.5 291.0,363.5" fill="#a7bed0" stroke="#333" stroke-width="1.3" stroke-linejoin="round"/><path d="M291.0,351.5 Q311.0,359.5 331.0,351.5 M311.0,341.5 L311.0,369.5" fill="none" stroke="#556" stroke-width="0.9"/><rect x="300.0" y="303.5" width="22" height="36" fill="#a7bed0" stroke="#333" stroke-width="1.3"/><path d="M300.0,339.5 Q311.0,344.5 322.0,339.5" fill="#a7bed0" stroke="#333" stroke-width="1.1"/><ellipse cx="311.0" cy="303.5" rx="11" ry="5.5" fill="#a7bed0" stroke="#333" stroke-width="1.2"/><ellipse cx="311.0" cy="303.5" rx="6" ry="3.2" fill="#f2f2e6"/><ellipse cx="318.0" cy="323.5" rx="3" ry="4" fill="#eeeeee" stroke="#333" stroke-width="0.9"/><polygon points="241,437.5 188.9,479.9 212.2,489.2" fill="#000"/><use href="#shaft" transform="translate(1660,436) rotate(28.8)"/><use href="#sec" transform="translate(1475,282)"/><g transform="translate(1439.5,261.5) rotate(35)"><rect x="0" y="-15" width="14" height="30" rx="5" fill="#d0d0d0" stroke="#333" stroke-width="1.4"/><ellipse cx="3" cy="0" rx="4" ry="14" fill="#bdbdbd" stroke="#555" stroke-width="0.9"/><path d="M7,-14 L7,14" stroke="#999" stroke-width="0.9"/><rect x="14" y="-11" width="14" height="22" fill="#e2e2e2" stroke="#333" stroke-width="1.4"/><line x1="21" y1="-11" x2="21" y2="11" stroke="#888" stroke-width="0.9"/><rect x="28" y="-8.5" width="5" height="17" fill="#d8d8d8" stroke="#333" stroke-width="1.1"/><rect x="33" y="-7.5" width="11" height="15" rx="2" fill="#6a90b8" stroke="#333" stroke-width="1.4"/><line x1="36" y1="-7.5" x2="36" y2="7.5" stroke="#222" stroke-width="0.8"/><line x1="39" y1="-7.5" x2="39" y2="7.5" stroke="#222" stroke-width="0.8"/><line x1="42" y1="-7.5" x2="42" y2="7.5" stroke="#222" stroke-width="0.8"/><ellipse cx="44" cy="0" rx="2.5" ry="6" fill="#cfcfcf" stroke="#333" stroke-width="1.1"/></g><g transform="translate(1572,252)"><path d="M-11,8 C-11,-2 -8,-1 -8,-1 L8,-1 C8,-1 11,-2 11,8 L11,26 L9,28 L9,37 C5,40 -5,40 -9,37 L-9,28 L-11,26 Z" fill="#d4d4d4" stroke="#333" stroke-width="1.3"/><ellipse cx="0" cy="2" rx="7.5" ry="3.5" fill="#e4e4e4" stroke="#333" stroke-width="1.1"/><path d="M-11,9 Q0,12 11,9 M-11,25 Q0,28 11,25 M-9,29 Q0,32 9,29" fill="none" stroke="#444" stroke-width="1"/><ellipse cx="-4" cy="16" rx="2.5" ry="4" transform="rotate(-30 -4 16)" fill="#555"/><rect x="-9" y="29" width="18" height="8" fill="#bcbcbc" opacity="0.6"/></g><g transform="translate(1704,395)"><path d="M-26,-5 L-14,-8 L-14,9 L-26,6 Z" fill="#cfcfcf" stroke="#333" stroke-width="1.3"/><ellipse cx="-26" cy="0.5" rx="3" ry="5.5" fill="#bdbdbd" stroke="#333" stroke-width="1.2"/><path d="M-13,-12 L-2,-14 L-2,14 L-13,12 Z" fill="#cfcfcf" stroke="#333" stroke-width="1.3"/><ellipse cx="0" cy="0" rx="14" ry="14" fill="#dcdcdc" stroke="#333" stroke-width="1.5"/><ellipse cx="0" cy="0" rx="10" ry="10" fill="none" stroke="#aaa" stroke-width="1"/><path d="M-5,-6 L3,-6 L7,0 L3,6 L-5,6 L-8,0 Z" fill="#f4f4f4" stroke="#333" stroke-width="1.1"/></g><use href="#shaft" transform="translate(1505,524) rotate(28.8)"/><use href="#sec" transform="translate(1320,370)"/><g transform="translate(1284.5,349.5) rotate(35)"><rect x="0" y="-15" width="14" height="30" rx="5" fill="#d0d0d0" stroke="#333" stroke-width="1.4"/><ellipse cx="3" cy="0" rx="4" ry="14" fill="#bdbdbd" stroke="#555" stroke-width="0.9"/><path d="M7,-14 L7,14" stroke="#999" stroke-width="0.9"/><rect x="14" y="-11" width="14" height="22" fill="#e2e2e2" stroke="#333" stroke-width="1.4"/><line x1="21" y1="-11" x2="21" y2="11" stroke="#888" stroke-width="0.9"/><rect x="28" y="-8.5" width="5" height="17" fill="#d8d8d8" stroke="#333" stroke-width="1.1"/><rect x="33" y="-7.5" width="11" height="15" rx="2" fill="#6a90b8" stroke="#333" stroke-width="1.4"/><line x1="36" y1="-7.5" x2="36" y2="7.5" stroke="#222" stroke-width="0.8"/><line x1="39" y1="-7.5" x2="39" y2="7.5" stroke="#222" stroke-width="0.8"/><line x1="42" y1="-7.5" x2="42" y2="7.5" stroke="#222" stroke-width="0.8"/><ellipse cx="44" cy="0" rx="2.5" ry="6" fill="#cfcfcf" stroke="#333" stroke-width="1.1"/></g><g transform="translate(1417,340)"><path d="M-11,8 C-11,-2 -8,-1 -8,-1 L8,-1 C8,-1 11,-2 11,8 L11,26 L9,28 L9,37 C5,40 -5,40 -9,37 L-9,28 L-11,26 Z" fill="#d4d4d4" stroke="#333" stroke-width="1.3"/><ellipse cx="0" cy="2" rx="7.5" ry="3.5" fill="#e4e4e4" stroke="#333" stroke-width="1.1"/><path d="M-11,9 Q0,12 11,9 M-11,25 Q0,28 11,25 M-9,29 Q0,32 9,29" fill="none" stroke="#444" stroke-width="1"/><ellipse cx="-4" cy="16" rx="2.5" ry="4" transform="rotate(-30 -4 16)" fill="#555"/><rect x="-9" y="29" width="18" height="8" fill="#bcbcbc" opacity="0.6"/></g><g transform="translate(1549,483)"><path d="M-26,-5 L-14,-8 L-14,9 L-26,6 Z" fill="#cfcfcf" stroke="#333" stroke-width="1.3"/><ellipse cx="-26" cy="0.5" rx="3" ry="5.5" fill="#bdbdbd" stroke="#333" stroke-width="1.2"/><path d="M-13,-12 L-2,-14 L-2,14 L-13,12 Z" fill="#cfcfcf" stroke="#333" stroke-width="1.3"/><ellipse cx="0" cy="0" rx="14" ry="14" fill="#dcdcdc" stroke="#333" stroke-width="1.5"/><ellipse cx="0" cy="0" rx="10" ry="10" fill="none" stroke="#aaa" stroke-width="1"/><path d="M-5,-6 L3,-6 L7,0 L3,6 L-5,6 L-8,0 Z" fill="#f4f4f4" stroke="#333" stroke-width="1.1"/></g><use href="#shaft" transform="translate(1350,612) rotate(28.8)"/><use href="#sec" transform="translate(1165,458)"/><g transform="translate(1129.5,437.5) rotate(35)"><rect x="0" y="-15" width="14" height="30" rx="5" fill="#d0d0d0" stroke="#333" stroke-width="1.4"/><ellipse cx="3" cy="0" rx="4" ry="14" fill="#bdbdbd" stroke="#555" stroke-width="0.9"/><path d="M7,-14 L7,14" stroke="#999" stroke-width="0.9"/><rect x="14" y="-11" width="14" height="22" fill="#e2e2e2" stroke="#333" stroke-width="1.4"/><line x1="21" y1="-11" x2="21" y2="11" stroke="#888" stroke-width="0.9"/><rect x="28" y="-8.5" width="5" height="17" fill="#d8d8d8" stroke="#333" stroke-width="1.1"/><rect x="33" y="-7.5" width="11" height="15" rx="2" fill="#8a8a8a" stroke="#333" stroke-width="1.4"/><line x1="36" y1="-7.5" x2="36" y2="7.5" stroke="#222" stroke-width="0.8"/><line x1="39" y1="-7.5" x2="39" y2="7.5" stroke="#222" stroke-width="0.8"/><line x1="42" y1="-7.5" x2="42" y2="7.5" stroke="#222" stroke-width="0.8"/><ellipse cx="44" cy="0" rx="2.5" ry="6" fill="#cfcfcf" stroke="#333" stroke-width="1.1"/></g><g transform="translate(1262,428)"><path d="M-11,8 C-11,-2 -8,-1 -8,-1 L8,-1 C8,-1 11,-2 11,8 L11,26 L9,28 L9,37 C5,40 -5,40 -9,37 L-9,28 L-11,26 Z" fill="#d4d4d4" stroke="#333" stroke-width="1.3"/><ellipse cx="0" cy="2" rx="7.5" ry="3.5" fill="#e4e4e4" stroke="#333" stroke-width="1.1"/><path d="M-11,9 Q0,12 11,9 M-11,25 Q0,28 11,25 M-9,29 Q0,32 9,29" fill="none" stroke="#444" stroke-width="1"/><ellipse cx="-4" cy="16" rx="2.5" ry="4" transform="rotate(-30 -4 16)" fill="#555"/><rect x="-9" y="29" width="18" height="8" fill="#bcbcbc" opacity="0.6"/></g><g transform="translate(1394,571)"><path d="M-26,-5 L-14,-8 L-14,9 L-26,6 Z" fill="#cfcfcf" stroke="#333" stroke-width="1.3"/><ellipse cx="-26" cy="0.5" rx="3" ry="5.5" fill="#bdbdbd" stroke="#333" stroke-width="1.2"/><path d="M-13,-12 L-2,-14 L-2,14 L-13,12 Z" fill="#cfcfcf" stroke="#333" stroke-width="1.3"/><ellipse cx="0" cy="0" rx="14" ry="14" fill="#dcdcdc" stroke="#333" stroke-width="1.5"/><ellipse cx="0" cy="0" rx="10" ry="10" fill="none" stroke="#aaa" stroke-width="1"/><path d="M-5,-6 L3,-6 L7,0 L3,6 L-5,6 L-8,0 Z" fill="#f4f4f4" stroke="#333" stroke-width="1.1"/></g><use href="#shaft" transform="translate(1199,698) rotate(28.8)"/><use href="#sec" transform="translate(1014,544)"/><g transform="translate(978.5,523.5) rotate(35)"><rect x="0" y="-15" width="14" height="30" rx="5" fill="#d0d0d0" stroke="#333" stroke-width="1.4"/><ellipse cx="3" cy="0" rx="4" ry="14" fill="#bdbdbd" stroke="#555" stroke-width="0.9"/><path d="M7,-14 L7,14" stroke="#999" stroke-width="0.9"/><rect x="14" y="-11" width="14" height="22" fill="#e2e2e2" stroke="#333" stroke-width="1.4"/><line x1="21" y1="-11" x2="21" y2="11" stroke="#888" stroke-width="0.9"/><rect x="28" y="-8.5" width="5" height="17" fill="#d8d8d8" stroke="#333" stroke-width="1.1"/><rect x="33" y="-7.5" width="11" height="15" rx="2" fill="#8a8a8a" stroke="#333" stroke-width="1.4"/><line x1="36" y1="-7.5" x2="36" y2="7.5" stroke="#222" stroke-width="0.8"/><line x1="39" y1="-7.5" x2="39" y2="7.5" stroke="#222" stroke-width="0.8"/><line x1="42" y1="-7.5" x2="42" y2="7.5" stroke="#222" stroke-width="0.8"/><ellipse cx="44" cy="0" rx="2.5" ry="6" fill="#cfcfcf" stroke="#333" stroke-width="1.1"/></g><g transform="translate(1111,514)"><path d="M-11,8 C-11,-2 -8,-1 -8,-1 L8,-1 C8,-1 11,-2 11,8 L11,26 L9,28 L9,37 C5,40 -5,40 -9,37 L-9,28 L-11,26 Z" fill="#d4d4d4" stroke="#333" stroke-width="1.3"/><ellipse cx="0" cy="2" rx="7.5" ry="3.5" fill="#e4e4e4" stroke="#333" stroke-width="1.1"/><path d="M-11,9 Q0,12 11,9 M-11,25 Q0,28 11,25 M-9,29 Q0,32 9,29" fill="none" stroke="#444" stroke-width="1"/><ellipse cx="-4" cy="16" rx="2.5" ry="4" transform="rotate(-30 -4 16)" fill="#555"/><rect x="-9" y="29" width="18" height="8" fill="#bcbcbc" opacity="0.6"/></g><g transform="translate(1243,657)"><path d="M-26,-5 L-14,-8 L-14,9 L-26,6 Z" fill="#cfcfcf" stroke="#333" stroke-width="1.3"/><ellipse cx="-26" cy="0.5" rx="3" ry="5.5" fill="#bdbdbd" stroke="#333" stroke-width="1.2"/><path d="M-13,-12 L-2,-14 L-2,14 L-13,12 Z" fill="#cfcfcf" stroke="#333" stroke-width="1.3"/><ellipse cx="0" cy="0" rx="14" ry="14" fill="#dcdcdc" stroke="#333" stroke-width="1.5"/><ellipse cx="0" cy="0" rx="10" ry="10" fill="none" stroke="#aaa" stroke-width="1"/><path d="M-5,-6 L3,-6 L7,0 L3,6 L-5,6 L-8,0 Z" fill="#f4f4f4" stroke="#333" stroke-width="1.1"/></g><use href="#shaft" transform="translate(1049,783) rotate(28.8)"/><use href="#sec" transform="translate(864,629)"/><g transform="translate(828.5,608.5) rotate(35)"><rect x="0" y="-15" width="14" height="30" rx="5" fill="#d0d0d0" stroke="#333" stroke-width="1.4"/><ellipse cx="3" cy="0" rx="4" ry="14" fill="#bdbdbd" stroke="#555" stroke-width="0.9"/><path d="M7,-14 L7,14" stroke="#999" stroke-width="0.9"/><rect x="14" y="-11" width="14" height="22" fill="#e2e2e2" stroke="#333" stroke-width="1.4"/><line x1="21" y1="-11" x2="21" y2="11" stroke="#888" stroke-width="0.9"/><rect x="28" y="-8.5" width="5" height="17" fill="#d8d8d8" stroke="#333" stroke-width="1.1"/><rect x="33" y="-7.5" width="11" height="15" rx="2" fill="#8a8a8a" stroke="#333" stroke-width="1.4"/><line x1="36" y1="-7.5" x2="36" y2="7.5" stroke="#222" stroke-width="0.8"/><line x1="39" y1="-7.5" x2="39" y2="7.5" stroke="#222" stroke-width="0.8"/><line x1="42" y1="-7.5" x2="42" y2="7.5" stroke="#222" stroke-width="0.8"/><ellipse cx="44" cy="0" rx="2.5" ry="6" fill="#cfcfcf" stroke="#333" stroke-width="1.1"/></g><g transform="translate(961,599)"><path d="M-11,8 C-11,-2 -8,-1 -8,-1 L8,-1 C8,-1 11,-2 11,8 L11,26 L9,28 L9,37 C5,40 -5,40 -9,37 L-9,28 L-11,26 Z" fill="#d4d4d4" stroke="#333" stroke-width="1.3"/><ellipse cx="0" cy="2" rx="7.5" ry="3.5" fill="#e4e4e4" stroke="#333" stroke-width="1.1"/><path d="M-11,9 Q0,12 11,9 M-11,25 Q0,28 11,25 M-9,29 Q0,32 9,29" fill="none" stroke="#444" stroke-width="1"/><ellipse cx="-4" cy="16" rx="2.5" ry="4" transform="rotate(-30 -4 16)" fill="#555"/><rect x="-9" y="29" width="18" height="8" fill="#bcbcbc" opacity="0.6"/></g><g transform="translate(1093,742)"><path d="M-26,-5 L-14,-8 L-14,9 L-26,6 Z" fill="#cfcfcf" stroke="#333" stroke-width="1.3"/><ellipse cx="-26" cy="0.5" rx="3" ry="5.5" fill="#bdbdbd" stroke="#333" stroke-width="1.2"/><path d="M-13,-12 L-2,-14 L-2,14 L-13,12 Z" fill="#cfcfcf" stroke="#333" stroke-width="1.3"/><ellipse cx="0" cy="0" rx="14" ry="14" fill="#dcdcdc" stroke="#333" stroke-width="1.5"/><ellipse cx="0" cy="0" rx="10" ry="10" fill="none" stroke="#aaa" stroke-width="1"/><path d="M-5,-6 L3,-6 L7,0 L3,6 L-5,6 L-8,0 Z" fill="#f4f4f4" stroke="#333" stroke-width="1.1"/></g><use href="#shaft" transform="translate(895,870) rotate(28.8)"/><use href="#sec" transform="translate(710,716)"/><g transform="translate(674.5,695.5) rotate(35)"><rect x="0" y="-15" width="14" height="30" rx="5" fill="#d0d0d0" stroke="#333" stroke-width="1.4"/><ellipse cx="3" cy="0" rx="4" ry="14" fill="#bdbdbd" stroke="#555" stroke-width="0.9"/><path d="M7,-14 L7,14" stroke="#999" stroke-width="0.9"/><rect x="14" y="-11" width="14" height="22" fill="#e2e2e2" stroke="#333" stroke-width="1.4"/><line x1="21" y1="-11" x2="21" y2="11" stroke="#888" stroke-width="0.9"/><rect x="28" y="-8.5" width="5" height="17" fill="#d8d8d8" stroke="#333" stroke-width="1.1"/><rect x="33" y="-7.5" width="11" height="15" rx="2" fill="#8a8a8a" stroke="#333" stroke-width="1.4"/><line x1="36" y1="-7.5" x2="36" y2="7.5" stroke="#222" stroke-width="0.8"/><line x1="39" y1="-7.5" x2="39" y2="7.5" stroke="#222" stroke-width="0.8"/><line x1="42" y1="-7.5" x2="42" y2="7.5" stroke="#222" stroke-width="0.8"/><ellipse cx="44" cy="0" rx="2.5" ry="6" fill="#cfcfcf" stroke="#333" stroke-width="1.1"/></g><g transform="translate(807,686)"><path d="M-11,8 C-11,-2 -8,-1 -8,-1 L8,-1 C8,-1 11,-2 11,8 L11,26 L9,28 L9,37 C5,40 -5,40 -9,37 L-9,28 L-11,26 Z" fill="#d4d4d4" stroke="#333" stroke-width="1.3"/><ellipse cx="0" cy="2" rx="7.5" ry="3.5" fill="#e4e4e4" stroke="#333" stroke-width="1.1"/><path d="M-11,9 Q0,12 11,9 M-11,25 Q0,28 11,25 M-9,29 Q0,32 9,29" fill="none" stroke="#444" stroke-width="1"/><ellipse cx="-4" cy="16" rx="2.5" ry="4" transform="rotate(-30 -4 16)" fill="#555"/><rect x="-9" y="29" width="18" height="8" fill="#bcbcbc" opacity="0.6"/></g><g transform="translate(939,829)"><path d="M-26,-5 L-14,-8 L-14,9 L-26,6 Z" fill="#cfcfcf" stroke="#333" stroke-width="1.3"/><ellipse cx="-26" cy="0.5" rx="3" ry="5.5" fill="#bdbdbd" stroke="#333" stroke-width="1.2"/><path d="M-13,-12 L-2,-14 L-2,14 L-13,12 Z" fill="#cfcfcf" stroke="#333" stroke-width="1.3"/><ellipse cx="0" cy="0" rx="14" ry="14" fill="#dcdcdc" stroke="#333" stroke-width="1.5"/><ellipse cx="0" cy="0" rx="10" ry="10" fill="none" stroke="#aaa" stroke-width="1"/><path d="M-5,-6 L3,-6 L7,0 L3,6 L-5,6 L-8,0 Z" fill="#f4f4f4" stroke="#333" stroke-width="1.1"/></g><use href="#shaft" transform="translate(733,963) rotate(28.8)"/><use href="#sec" transform="translate(548,809)"/><g transform="translate(512.5,788.5) rotate(35)"><rect x="0" y="-15" width="14" height="30" rx="5" fill="#d0d0d0" stroke="#333" stroke-width="1.4"/><ellipse cx="3" cy="0" rx="4" ry="14" fill="#bdbdbd" stroke="#555" stroke-width="0.9"/><path d="M7,-14 L7,14" stroke="#999" stroke-width="0.9"/><rect x="14" y="-11" width="14" height="22" fill="#e2e2e2" stroke="#333" stroke-width="1.4"/><line x1="21" y1="-11" x2="21" y2="11" stroke="#888" stroke-width="0.9"/><rect x="28" y="-8.5" width="5" height="17" fill="#d8d8d8" stroke="#333" stroke-width="1.1"/><rect x="33" y="-7.5" width="11" height="15" rx="2" fill="#8a8a8a" stroke="#333" stroke-width="1.4"/><line x1="36" y1="-7.5" x2="36" y2="7.5" stroke="#222" stroke-width="0.8"/><line x1="39" y1="-7.5" x2="39" y2="7.5" stroke="#222" stroke-width="0.8"/><line x1="42" y1="-7.5" x2="42" y2="7.5" stroke="#222" stroke-width="0.8"/><ellipse cx="44" cy="0" rx="2.5" ry="6" fill="#cfcfcf" stroke="#333" stroke-width="1.1"/></g><g transform="translate(645,779)"><path d="M-11,8 C-11,-2 -8,-1 -8,-1 L8,-1 C8,-1 11,-2 11,8 L11,26 L9,28 L9,37 C5,40 -5,40 -9,37 L-9,28 L-11,26 Z" fill="#d4d4d4" stroke="#333" stroke-width="1.3"/><ellipse cx="0" cy="2" rx="7.5" ry="3.5" fill="#e4e4e4" stroke="#333" stroke-width="1.1"/><path d="M-11,9 Q0,12 11,9 M-11,25 Q0,28 11,25 M-9,29 Q0,32 9,29" fill="none" stroke="#444" stroke-width="1"/><ellipse cx="-4" cy="16" rx="2.5" ry="4" transform="rotate(-30 -4 16)" fill="#555"/><rect x="-9" y="29" width="18" height="8" fill="#bcbcbc" opacity="0.6"/></g><g transform="translate(777,922)"><path d="M-26,-5 L-14,-8 L-14,9 L-26,6 Z" fill="#cfcfcf" stroke="#333" stroke-width="1.3"/><ellipse cx="-26" cy="0.5" rx="3" ry="5.5" fill="#bdbdbd" stroke="#333" stroke-width="1.2"/><path d="M-13,-12 L-2,-14 L-2,14 L-13,12 Z" fill="#cfcfcf" stroke="#333" stroke-width="1.3"/><ellipse cx="0" cy="0" rx="14" ry="14" fill="#dcdcdc" stroke="#333" stroke-width="1.5"/><ellipse cx="0" cy="0" rx="10" ry="10" fill="none" stroke="#aaa" stroke-width="1"/><path d="M-5,-6 L3,-6 L7,0 L3,6 L-5,6 L-8,0 Z" fill="#f4f4f4" stroke="#333" stroke-width="1.1"/></g><g transform="translate(357,569) rotate(32)"><rect x="0" y="-5" width="10" height="10" rx="3" fill="#e2e2e2" stroke="#333" stroke-width="1.2"/><rect x="10" y="-3" width="20" height="6" fill="#d0d0d0" stroke="#333" stroke-width="1.1"/><line x1="12" y1="-3" x2="12" y2="3" stroke="#555" stroke-width="0.7"/><line x1="15" y1="-3" x2="15" y2="3" stroke="#555" stroke-width="0.7"/><line x1="18" y1="-3" x2="18" y2="3" stroke="#555" stroke-width="0.7"/><line x1="21" y1="-3" x2="21" y2="3" stroke="#555" stroke-width="0.7"/><line x1="24" y1="-3" x2="24" y2="3" stroke="#555" stroke-width="0.7"/><line x1="27" y1="-3" x2="27" y2="3" stroke="#555" stroke-width="0.7"/></g><g transform="translate(437.5,613.75) scale(1.0)"><path d="M-42,-36 L-6,-25 L-21,6 L-47,-9 C-50,-16 -48,-30 -42,-36 Z" fill="#aeb0d6" stroke="#333" stroke-width="1.3" stroke-linejoin="round"/><path d="M-47,-20 L-14,-9" stroke="#d8d8ee" stroke-width="2.5" opacity="0.8"/><path d="M-25,-22 L2,-25 L16,-3 L15,10 L-6,17 L-23,9 Z" fill="#b4b6da" stroke="#333" stroke-width="1.3" stroke-linejoin="round"/><ellipse cx="0" cy="-2" rx="13" ry="15" transform="rotate(-15)" fill="#f7f3d6" stroke="#333" stroke-width="1"/><circle cx="-16" cy="-7" r="2.6" fill="#eee" stroke="#333" stroke-width="0.8"/><circle cx="11" cy="10" r="2.6" fill="#eee" stroke="#333" stroke-width="0.8"/></g><g transform="translate(463,630) rotate(30)"><rect x="0" y="-12" width="56" height="24" rx="4" fill="#8a8a8a" stroke="#333" stroke-width="1.3"/><path d="M4.0,-12 Q7.0,0 4.0,12" fill="none" stroke="#222" stroke-width="1.4"/><path d="M5.5,-11 Q8.0,0 5.5,11" fill="none" stroke="#c8c8c8" stroke-width="0.8"/><path d="M10.0,-12 Q13.0,0 10.0,12" fill="none" stroke="#222" stroke-width="1.4"/><path d="M11.5,-11 Q14.0,0 11.5,11" fill="none" stroke="#c8c8c8" stroke-width="0.8"/><path d="M16.0,-12 Q19.0,0 16.0,12" fill="none" stroke="#222" stroke-width="1.4"/><path d="M17.5,-11 Q20.0,0 17.5,11" fill="none" stroke="#c8c8c8" stroke-width="0.8"/><path d="M22.0,-12 Q25.0,0 22.0,12" fill="none" stroke="#222" stroke-width="1.4"/><path d="M23.5,-11 Q26.0,0 23.5,11" fill="none" stroke="#c8c8c8" stroke-width="0.8"/><path d="M28.0,-12 Q31.0,0 28.0,12" fill="none" stroke="#222" stroke-width="1.4"/><path d="M29.5,-11 Q32.0,0 29.5,11" fill="none" stroke="#c8c8c8" stroke-width="0.8"/><path d="M34.0,-12 Q37.0,0 34.0,12" fill="none" stroke="#222" stroke-width="1.4"/><path d="M35.5,-11 Q38.0,0 35.5,11" fill="none" stroke="#c8c8c8" stroke-width="0.8"/><path d="M40.0,-12 Q43.0,0 40.0,12" fill="none" stroke="#222" stroke-width="1.4"/><path d="M41.5,-11 Q44.0,0 41.5,11" fill="none" stroke="#c8c8c8" stroke-width="0.8"/><path d="M46.0,-12 Q49.0,0 46.0,12" fill="none" stroke="#222" stroke-width="1.4"/><path d="M47.5,-11 Q50.0,0 47.5,11" fill="none" stroke="#c8c8c8" stroke-width="0.8"/><path d="M52.0,-12 Q55.0,0 52.0,12" fill="none" stroke="#222" stroke-width="1.4"/><path d="M53.5,-11 Q56.0,0 53.5,11" fill="none" stroke="#c8c8c8" stroke-width="0.8"/><ellipse cx="56" cy="0" rx="4" ry="12" fill="#f0f0f0" stroke="#333" stroke-width="1.1"/></g><ellipse cx="532.5" cy="667.5" rx="15" ry="20" transform="rotate(-20 532.5 667.5)" fill="#dcdcdc" stroke="#333" stroke-width="1.3"/><ellipse cx="534.0" cy="668.5" rx="10" ry="15" transform="rotate(-20 532.5 667.5)" fill="#fff" stroke="#333" stroke-width="1.3"/><ellipse cx="556" cy="681" rx="9" ry="14" transform="rotate(-20 556 681)" fill="none" stroke="#555" stroke-width="2.2"/><ellipse cx="575" cy="692.5" rx="9" ry="14" transform="rotate(-20 575 692.5)" fill="none" stroke="#8a6a40" stroke-width="2.4"/><ellipse cx="575" cy="692.5" rx="9" ry="14" transform="rotate(-20 575 692.5)" fill="none" stroke="#c8a070" stroke-width="0.8"/><g transform="translate(199,662) rotate(32)"><rect x="0" y="-5" width="10" height="10" rx="3" fill="#e2e2e2" stroke="#333" stroke-width="1.2"/><rect x="10" y="-3" width="18" height="6" fill="#d0d0d0" stroke="#333" stroke-width="1.1"/><line x1="12" y1="-3" x2="12" y2="3" stroke="#555" stroke-width="0.7"/><line x1="15" y1="-3" x2="15" y2="3" stroke="#555" stroke-width="0.7"/><line x1="18" y1="-3" x2="18" y2="3" stroke="#555" stroke-width="0.7"/><line x1="21" y1="-3" x2="21" y2="3" stroke="#555" stroke-width="0.7"/><line x1="24" y1="-3" x2="24" y2="3" stroke="#555" stroke-width="0.7"/><line x1="27" y1="-3" x2="27" y2="3" stroke="#555" stroke-width="0.7"/></g><g transform="translate(278.75,706.25) scale(1.0)"><path d="M-42,-36 L-6,-25 L-21,6 L-47,-9 C-50,-16 -48,-30 -42,-36 Z" fill="#aeb0d6" stroke="#333" stroke-width="1.3" stroke-linejoin="round"/><path d="M-47,-20 L-14,-9" stroke="#d8d8ee" stroke-width="2.5" opacity="0.8"/><path d="M-25,-22 L2,-25 L16,-3 L15,10 L-6,17 L-23,9 Z" fill="#b4b6da" stroke="#333" stroke-width="1.3" stroke-linejoin="round"/><ellipse cx="0" cy="-2" rx="13" ry="15" transform="rotate(-15)" fill="#f7f3d6" stroke="#333" stroke-width="1"/><circle cx="-16" cy="-7" r="2.6" fill="#eee" stroke="#333" stroke-width="0.8"/><circle cx="11" cy="10" r="2.6" fill="#eee" stroke="#333" stroke-width="0.8"/></g><g transform="translate(340,738) rotate(27)"><path d="M-34,-16 L0,-16 L0,16 L-34,16 Z" fill="#6d9b96" stroke="#333" stroke-width="1.3"/><ellipse cx="-34" cy="0" rx="5" ry="16" fill="#6d9b96" stroke="#333" stroke-width="1.3"/><rect x="-34" y="-16" width="34" height="6" fill="#8ab3ae" opacity="0.5"/><ellipse cx="0" cy="0" rx="6" ry="16" fill="#f5f1d6" stroke="#333" stroke-width="1.3"/><rect x="0" y="-2.5" width="8" height="5" fill="#e8e8e8" stroke="#333" stroke-width="1"/></g><ellipse cx="357.5" cy="750" rx="10" ry="14" transform="rotate(-20 357.5 750)" fill="#dcdcdc" stroke="#333" stroke-width="1.3"/><ellipse cx="359.0" cy="751" rx="6" ry="10" transform="rotate(-20 357.5 750)" fill="#fff" stroke="#333" stroke-width="1.3"/><ellipse cx="381" cy="764" rx="15" ry="20" transform="rotate(-20 381 764)" fill="#dcdcdc" stroke="#333" stroke-width="1.3"/><ellipse cx="382.5" cy="765" rx="10" ry="15" transform="rotate(-20 381 764)" fill="#fff" stroke="#333" stroke-width="1.3"/><ellipse cx="406" cy="777.5" rx="10" ry="14" transform="rotate(-20 406 777.5)" fill="none" stroke="#555" stroke-width="2.2"/><ellipse cx="424" cy="787.5" rx="10" ry="14" transform="rotate(-20 424 787.5)" fill="none" stroke="#8a6a40" stroke-width="2.4"/><ellipse cx="424" cy="787.5" rx="10" ry="14" transform="rotate(-20 424 787.5)" fill="none" stroke="#c8a070" stroke-width="0.8"/><g transform="translate(1160,146) rotate(30)"><rect x="0" y="-5" width="10" height="10" rx="3" fill="#e2e2e2" stroke="#333" stroke-width="1.2"/><rect x="10" y="-3" width="20" height="6" fill="#d0d0d0" stroke="#333" stroke-width="1.1"/><line x1="12" y1="-3" x2="12" y2="3" stroke="#555" stroke-width="0.7"/><line x1="15" y1="-3" x2="15" y2="3" stroke="#555" stroke-width="0.7"/><line x1="18" y1="-3" x2="18" y2="3" stroke="#555" stroke-width="0.7"/><line x1="21" y1="-3" x2="21" y2="3" stroke="#555" stroke-width="0.7"/><line x1="24" y1="-3" x2="24" y2="3" stroke="#555" stroke-width="0.7"/><line x1="27" y1="-3" x2="27" y2="3" stroke="#555" stroke-width="0.7"/></g><g transform="translate(1240,194) scale(1.0)"><path d="M-42,-36 L-6,-25 L-21,6 L-47,-9 C-50,-16 -48,-30 -42,-36 Z" fill="#aeb0d6" stroke="#333" stroke-width="1.3" stroke-linejoin="round"/><path d="M-47,-20 L-14,-9" stroke="#d8d8ee" stroke-width="2.5" opacity="0.8"/><path d="M-25,-22 L2,-25 L16,-3 L15,10 L-6,17 L-23,9 Z" fill="#b4b6da" stroke="#333" stroke-width="1.3" stroke-linejoin="round"/><ellipse cx="0" cy="-2" rx="13" ry="15" transform="rotate(-15)" fill="#f7f3d6" stroke="#333" stroke-width="1"/><circle cx="-16" cy="-7" r="2.6" fill="#eee" stroke="#333" stroke-width="0.8"/><circle cx="11" cy="10" r="2.6" fill="#eee" stroke="#333" stroke-width="0.8"/></g><g transform="translate(1302,230) rotate(27)"><path d="M-36,-17 L0,-17 L0,17 L-36,17 Z" fill="#6d9b96" stroke="#333" stroke-width="1.3"/><ellipse cx="-36" cy="0" rx="5" ry="17" fill="#6d9b96" stroke="#333" stroke-width="1.3"/><rect x="-36" y="-17" width="36" height="6" fill="#8ab3ae" opacity="0.5"/><ellipse cx="0" cy="0" rx="6" ry="17" fill="#f5f1d6" stroke="#333" stroke-width="1.3"/><rect x="0" y="-2.5" width="8" height="5" fill="#e8e8e8" stroke="#333" stroke-width="1"/></g><g transform="translate(1332,246) scale(1.0)"><path d="M-22,-14 L2,-22 C8,-24 12,-22 14,-18 L22,4 C24,10 22,14 16,16 L-6,22 C-12,24 -16,22 -18,16 L-24,-6 C-26,-10 -25,-13 -22,-14 Z" fill="#ebe5cc" stroke="#333" stroke-width="1.3"/><ellipse cx="0" cy="0" rx="11" ry="15" transform="rotate(-25)" fill="#fff" stroke="#333" stroke-width="1.2"/><circle cx="-15" cy="-9" r="3" fill="#fff" stroke="#333" stroke-width="0.9"/></g><g transform="translate(1355,258) scale(1.0)"><path d="M-22,-14 L2,-22 C8,-24 12,-22 14,-18 L22,4 C24,10 22,14 16,16 L-6,22 C-12,24 -16,22 -18,16 L-24,-6 C-26,-10 -25,-13 -22,-14 Z" fill="#ebe5cc" stroke="#333" stroke-width="1.3"/><ellipse cx="0" cy="0" rx="11" ry="15" transform="rotate(-25)" fill="#fff" stroke="#333" stroke-width="1.2"/><circle cx="-15" cy="-9" r="3" fill="#fff" stroke="#333" stroke-width="0.9"/></g><ellipse cx="1388" cy="278" rx="15" ry="20" transform="rotate(-20 1388 278)" fill="#dcdcdc" stroke="#333" stroke-width="1.3"/><ellipse cx="1389.5" cy="279" rx="10" ry="15" transform="rotate(-20 1388 278)" fill="#fff" stroke="#333" stroke-width="1.3"/><ellipse cx="1411" cy="293" rx="10" ry="15" transform="rotate(-20 1411 293)" fill="none" stroke="#555" stroke-width="2.2"/><ellipse cx="1431" cy="302" rx="10" ry="15" transform="rotate(-20 1431 302)" fill="none" stroke="#8a6a40" stroke-width="2.4"/><ellipse cx="1431" cy="302" rx="10" ry="15" transform="rotate(-20 1431 302)" fill="none" stroke="#c8a070" stroke-width="0.8"/><polygon points="1675.8,228.2 1678.4,219.3 1701.3,205.9 1712.8,205.3 1737.0,219.3 1749.7,229.5 1751.0,243.5 1748.4,249.8 1752.2,261.3 1780.3,276.6 1786.6,288.1 1786.6,332.6 1778.4,335.2 1778.4,354.3 1757.3,361.3 1755.4,345.4 1742.1,351.7 1702.6,322.4 1668.2,311.0 1661.8,281.7 1663.1,239.7" fill="#ffde00" stroke="#333" stroke-width="1.5" stroke-linejoin="round"/><polygon points="1663.1,239.7 1674.6,235.8 1703.9,252.4 1707.7,242.2 1719.1,243.5 1730.6,266.4 1763.7,286.8 1765.0,339.0 1757.3,344.7 1742.1,351.7 1702.6,322.4 1683.5,311.0 1668.2,311.0 1664.4,286.8 1661.8,281.7" fill="#edece5" stroke="#333" stroke-width="1.2" stroke-linejoin="round"/><path d="M1675.8,228.2 L1703.9,244 L1703.9,252.4 M1737,219.3 L1733,226 L1716,236 M1757,266 L1784,281 M1755.4,345.4 L1765,339 M1778.4,335.2 L1765,340" fill="none" stroke="#6a5a10" stroke-width="1"/><ellipse cx="1711.5" cy="224.4" rx="18" ry="12" fill="#ebe9e0" stroke="#333" stroke-width="1.2"/><ellipse cx="1712" cy="226" rx="13" ry="8" fill="#f6f2d2" stroke="#555" stroke-width="1"/><ellipse cx="1673.3" cy="251.1" rx="9" ry="12" transform="rotate(-22 1673.3 251.1)" fill="#f5f4ec" stroke="#a8a8a0" stroke-width="0.9"/><ellipse cx="1673.3" cy="251.1" rx="8.5" ry="11.5" transform="rotate(-22 1673.3 251.1)" fill="none" stroke="#2a2a2a" stroke-width="1.6" pathLength="100" stroke-dasharray="25 30 45 0"/><ellipse cx="1672" cy="277.9" rx="9" ry="12" transform="rotate(-22 1672 277.9)" fill="#f5f4ec" stroke="#a8a8a0" stroke-width="0.9"/><ellipse cx="1672" cy="277.9" rx="8.5" ry="11.5" transform="rotate(-22 1672 277.9)" fill="none" stroke="#2a2a2a" stroke-width="1.6" pathLength="100" stroke-dasharray="25 30 45 0"/><ellipse cx="1716.6" cy="276.6" rx="9" ry="12" transform="rotate(-22 1716.6 276.6)" fill="#f5f4ec" stroke="#a8a8a0" stroke-width="0.9"/><ellipse cx="1716.6" cy="276.6" rx="8.5" ry="11.5" transform="rotate(-22 1716.6 276.6)" fill="none" stroke="#2a2a2a" stroke-width="1.6" pathLength="100" stroke-dasharray="25 30 45 0"/><ellipse cx="1716.6" cy="312.2" rx="9" ry="12" transform="rotate(-22 1716.6 312.2)" fill="#f5f4ec" stroke="#a8a8a0" stroke-width="0.9"/><ellipse cx="1716.6" cy="312.2" rx="8.5" ry="11.5" transform="rotate(-22 1716.6 312.2)" fill="none" stroke="#2a2a2a" stroke-width="1.6" pathLength="100" stroke-dasharray="25 30 45 0"/><ellipse cx="1756.1" cy="297" rx="9" ry="12" transform="rotate(-22 1756.1 297)" fill="#f5f4ec" stroke="#a8a8a0" stroke-width="0.9"/><ellipse cx="1756.1" cy="297" rx="8.5" ry="11.5" transform="rotate(-22 1756.1 297)" fill="none" stroke="#2a2a2a" stroke-width="1.6" pathLength="100" stroke-dasharray="25 30 45 0"/><ellipse cx="1756.1" cy="322.4" rx="9" ry="12" transform="rotate(-22 1756.1 322.4)" fill="#f5f4ec" stroke="#a8a8a0" stroke-width="0.9"/><ellipse cx="1756.1" cy="322.4" rx="8.5" ry="11.5" transform="rotate(-22 1756.1 322.4)" fill="none" stroke="#2a2a2a" stroke-width="1.6" pathLength="100" stroke-dasharray="25 30 45 0"/><ellipse cx="1715.3" cy="248.6" rx="4" ry="5" fill="#cfe0ea" stroke="#333" stroke-width="0.8"/><ellipse cx="1682.2" cy="300.8" rx="4" ry="5" fill="#cfe0ea" stroke="#333" stroke-width="0.8"/><ellipse cx="1745.9" cy="337.7" rx="4" ry="5" fill="#cfe0ea" stroke="#333" stroke-width="0.8"/><ellipse cx="1651.6" cy="265.1" rx="8" ry="11" transform="rotate(-22 1651.6 265.1)" fill="none" stroke="#45382a" stroke-width="3.6"/><ellipse cx="1651.6" cy="265.1" rx="8" ry="11" transform="rotate(-22 1651.6 265.1)" fill="none" stroke="#8c7a56" stroke-width="1.6"/><ellipse cx="1651.6" cy="290.6" rx="8" ry="11" transform="rotate(-22 1651.6 290.6)" fill="none" stroke="#45382a" stroke-width="3.6"/><ellipse cx="1651.6" cy="290.6" rx="8" ry="11" transform="rotate(-22 1651.6 290.6)" fill="none" stroke="#8c7a56" stroke-width="1.6"/><ellipse cx="1692.4" cy="291.9" rx="8" ry="11" transform="rotate(-22 1692.4 291.9)" fill="none" stroke="#45382a" stroke-width="3.6"/><ellipse cx="1692.4" cy="291.9" rx="8" ry="11" transform="rotate(-22 1692.4 291.9)" fill="none" stroke="#8c7a56" stroke-width="1.6"/><ellipse cx="1692.4" cy="326.3" rx="8" ry="11" transform="rotate(-22 1692.4 326.3)" fill="none" stroke="#45382a" stroke-width="3.6"/><ellipse cx="1692.4" cy="326.3" rx="8" ry="11" transform="rotate(-22 1692.4 326.3)" fill="none" stroke="#8c7a56" stroke-width="1.6"/><ellipse cx="1733.1" cy="309.7" rx="8" ry="11" transform="rotate(-22 1733.1 309.7)" fill="none" stroke="#45382a" stroke-width="3.6"/><ellipse cx="1733.1" cy="309.7" rx="8" ry="11" transform="rotate(-22 1733.1 309.7)" fill="none" stroke="#8c7a56" stroke-width="1.6"/><ellipse cx="1733.1" cy="336.4" rx="8" ry="11" transform="rotate(-22 1733.1 336.4)" fill="none" stroke="#45382a" stroke-width="3.6"/><ellipse cx="1733.1" cy="336.4" rx="8" ry="11" transform="rotate(-22 1733.1 336.4)" fill="none" stroke="#8c7a56" stroke-width="1.6"/><g transform="translate(1803,250) rotate(-25)"><ellipse cx="6" cy="0" rx="10" ry="17" fill="#e0e0e0" stroke="#333" stroke-width="1.3"/><rect x="-14" y="-11" width="20" height="22" fill="#cfcfcf" stroke="#333" stroke-width="1.2"/><ellipse cx="-14" cy="0" rx="5" ry="11" fill="#e8e8e8" stroke="#333" stroke-width="1.2"/><path d="M-8,-11 L-8,11 M-4,-11 L-4,11 M0,-11 L0,11" stroke="#666" stroke-width="0.8"/></g><g transform="translate(1796,310) rotate(-31)"><rect x="0" y="-4" width="58" height="8" fill="#dedede" stroke="#333" stroke-width="1.2"/><line x1="2" y1="-4" x2="2" y2="4" stroke="#c00" stroke-width="1.2"/><path d="M34,-4 L34,4 M38,-4 L38,4 M42,-4 L42,4 M46,-4 L46,4 M50,-4 L50,4 M54,-4 L54,4" stroke="#666" stroke-width="0.7"/></g><ellipse cx="1857" cy="273" rx="10.5" ry="10" fill="#dcdcdc" stroke="#333" stroke-width="1.3"/><ellipse cx="1856" cy="273" rx="6" ry="5.5" fill="#cfd8e0" stroke="#555" stroke-width="0.9"/><polygon points="422.7,958.6 425.3,943.3 432.3,942.0 432.9,929.3 440.5,921.6 460.9,911.5 471.1,912.7 486.4,929.3 494.0,925.5 511.8,917.8 519.5,919.1 527.1,929.3 536.0,953.5 562.7,966.2 570.4,975.1 571.7,1009.5 574.2,1017.1 574.2,1037.5 569.1,1043.8 569.1,1055.3 564.0,1060.4 543.7,1066.8 536.0,1064.2 518.2,1050.2 490.2,1027.3 450.7,1017.1 447.0,1013.3 440.5,1009.5 437.0,999.0 422.7,987.8" fill="#ffde00" stroke="#333" stroke-width="1.6" stroke-linejoin="round"/><path d="M450.7,944.6 L453.3,968.7 L491.5,989.1 L534.7,1012 L541.1,1027.3 L542.4,1063 M499.1,930.6 L500.4,964.9 L538.6,981.5 L544.9,989.1 L546.2,1033.6 M486.4,1027.3 L494,1026 L537.3,1050.2 M432.9,942 L432.9,962 L440,966 M422.7,958.6 L432,962" fill="none" stroke="#6a5a10" stroke-width="1"/><ellipse cx="463.5" cy="930.5" rx="18" ry="12" fill="#ebe9e0" stroke="#333" stroke-width="1.3"/><ellipse cx="464" cy="932" rx="13" ry="8" fill="#f6f2d2" stroke="#555" stroke-width="1.1"/><path d="M474,940 L488,946 L488,958 L474,952 Z" fill="#e0e0e0" stroke="#333" stroke-width="1"/><ellipse cx="481.3" cy="950.9" rx="9.5" ry="12" fill="#e6e6e6" stroke="#333" stroke-width="1.3"/><ellipse cx="482" cy="951" rx="5.5" ry="7.5" fill="#cfe0ea" stroke="#333" stroke-width="1"/><ellipse cx="467.3" cy="1004.4" rx="12.5" ry="15.5" transform="rotate(-15 467.3 1004.4)" fill="#ece9dc" stroke="#333" stroke-width="1.3"/><ellipse cx="468" cy="1005" rx="8.5" ry="11.5" transform="rotate(-15 467.3 1004.4)" fill="#f4f0da" stroke="#555" stroke-width="1"/><ellipse cx="558.3" cy="1029.8" rx="17" ry="21" transform="rotate(-15 558.3 1029.8)" fill="#ffde00" stroke="#333" stroke-width="1.3"/><ellipse cx="558.3" cy="1029.8" rx="12.5" ry="16" transform="rotate(-15 558.3 1029.8)" fill="#f4f0dc" stroke="#333" stroke-width="1.1"/><ellipse cx="442" cy="1004" rx="3.5" ry="5" fill="#f0f0f0" stroke="#333" stroke-width="0.9"/><ellipse cx="511" cy="1044" rx="5" ry="5" fill="#e6e6e6" stroke="#333" stroke-width="0.9"/><g transform="translate(372,922) rotate(28)"><rect x="0" y="-15" width="30" height="30" fill="#b8b8b8" stroke="#333" stroke-width="1.3"/><ellipse cx="0" cy="0" rx="5" ry="15" fill="#a8a8a8" stroke="#333" stroke-width="1.2"/><ellipse cx="30" cy="0" rx="7" ry="15" fill="#ece8d2" stroke="#333" stroke-width="1.3"/><path d="M6,-15 L6,15 M10,-15 L10,15" stroke="#777" stroke-width="0.8"/></g><g transform="translate(428,1024) rotate(-28)"><rect x="0" y="-9" width="14" height="18" fill="#999" stroke="#333" stroke-width="1.2"/><path d="M4,-9 L4,9 M8,-9 L8,9 M12,-9 L12,9" stroke="#444" stroke-width="0.8"/></g><ellipse cx="420" cy="1032" rx="13" ry="15" fill="#e6e6e6" stroke="#333" stroke-width="1.3"/><path d="M417,1028 L422,1028 L424,1032 L422,1036 L417,1036 L415,1032 Z" fill="#f6f6f6" stroke="#555" stroke-width="0.8"/><ellipse cx="414.5" cy="1094" rx="10" ry="10" fill="#d8d8d8" stroke="#333" stroke-width="1.3"/><ellipse cx="414" cy="1095" rx="5" ry="4.5" fill="#cdd8e2" stroke="#666" stroke-width="0.8"/><g transform="translate(435,1083) rotate(-30)"><rect x="0" y="-5.5" width="60" height="11" fill="#e2e2e2" stroke="#333" stroke-width="1.2"/><path d="M3,-5.5 L3,5.5 M7,-5.5 L7,5.5 M11,-5.5 L11,5.5 M15,-5.5 L15,5.5" stroke="#555" stroke-width="0.8"/><line x1="59" y1="-5.5" x2="59" y2="5.5" stroke="#c00" stroke-width="1.3"/></g><ellipse cx="597.5" cy="1050" rx="10" ry="12.5" transform="rotate(-20 597.5 1050)" fill="none" stroke="#3b2e1c" stroke-width="3.2"/><ellipse cx="597.5" cy="1050" rx="10" ry="12.5" transform="rotate(-20 597.5 1050)" fill="none" stroke="#d0904a" stroke-width="1.2000000000000002"/><g transform="translate(615,1062) rotate(32)"><rect x="0" y="-6" width="12" height="12" rx="2" fill="#d8d8d8" stroke="#333" stroke-width="1.2"/><rect x="12" y="-9" width="6" height="18" fill="#cfcfcf" stroke="#333" stroke-width="1.2"/><rect x="18" y="-4" width="12" height="8" fill="#e0e0e0" stroke="#333" stroke-width="1.1"/></g><g transform="translate(652,1082) rotate(33)"><rect x="0" y="-9" width="42" height="18" rx="4" fill="#8a8a8a" stroke="#333" stroke-width="1.3"/><path d="M4.0,-9 Q7.0,0 4.0,9" fill="none" stroke="#222" stroke-width="1.4"/><path d="M5.5,-8 Q8.0,0 5.5,8" fill="none" stroke="#c8c8c8" stroke-width="0.8"/><path d="M9.7,-9 Q12.7,0 9.7,9" fill="none" stroke="#222" stroke-width="1.4"/><path d="M11.2,-8 Q13.7,0 11.2,8" fill="none" stroke="#c8c8c8" stroke-width="0.8"/><path d="M15.3,-9 Q18.3,0 15.3,9" fill="none" stroke="#222" stroke-width="1.4"/><path d="M16.8,-8 Q19.3,0 16.8,8" fill="none" stroke="#c8c8c8" stroke-width="0.8"/><path d="M21.0,-9 Q24.0,0 21.0,9" fill="none" stroke="#222" stroke-width="1.4"/><path d="M22.5,-8 Q25.0,0 22.5,8" fill="none" stroke="#c8c8c8" stroke-width="0.8"/><path d="M26.7,-9 Q29.7,0 26.7,9" fill="none" stroke="#222" stroke-width="1.4"/><path d="M28.2,-8 Q30.7,0 28.2,8" fill="none" stroke="#c8c8c8" stroke-width="0.8"/><path d="M32.3,-9 Q35.3,0 32.3,9" fill="none" stroke="#222" stroke-width="1.4"/><path d="M33.8,-8 Q36.3,0 33.8,8" fill="none" stroke="#c8c8c8" stroke-width="0.8"/><path d="M38.0,-9 Q41.0,0 38.0,9" fill="none" stroke="#222" stroke-width="1.4"/><path d="M39.5,-8 Q42.0,0 39.5,8" fill="none" stroke="#c8c8c8" stroke-width="0.8"/><ellipse cx="42" cy="0" rx="4" ry="9" fill="#f0f0f0" stroke="#333" stroke-width="1.1"/></g><g transform="translate(698,1108) rotate(33)"><rect x="0" y="-5" width="6" height="10" fill="#ccc" stroke="#333" stroke-width="1.1"/><rect x="6" y="-13" width="36" height="26" rx="3" fill="#deded6" stroke="#333" stroke-width="1.3"/><rect x="42" y="-9" width="8" height="18" fill="#e2e2e2" stroke="#333" stroke-width="1.2"/><rect x="50" y="-5" width="14" height="10" fill="#e2e2e2" stroke="#333" stroke-width="1.2"/></g><ellipse cx="941.6" cy="1080" rx="11" ry="14" transform="rotate(-20 941.6 1080)" fill="none" stroke="#9a8060" stroke-width="1.8"/><ellipse cx="961.6" cy="1095" rx="10" ry="12.5" transform="rotate(-20 961.6 1095)" fill="none" stroke="#3b2e1c" stroke-width="3.2"/><ellipse cx="961.6" cy="1095" rx="10" ry="12.5" transform="rotate(-20 961.6 1095)" fill="none" stroke="#d0904a" stroke-width="1.2000000000000002"/><ellipse cx="988" cy="1106.5" rx="15" ry="19" transform="rotate(-20 988 1106.5)" fill="#dcdcdc" stroke="#333" stroke-width="1.3"/><ellipse cx="989.5" cy="1107.5" rx="10" ry="14" transform="rotate(-20 988 1106.5)" fill="#fff" stroke="#333" stroke-width="1.3"/><path d="M1000.3,1141.5 L1007.3,1145.5 L1007.3,1151.5 L1000.3,1147.5 Z" fill="#ddd" stroke="#333" stroke-width="1"/><polygon points="1006.8,1116.0 1006.8,1154.5 1051.0,1178.2 1070.2,1176.0 1090.5,1165.8 1090.5,1136.5 1078.1,1120.5 1031.7,1103.5 1019.3,1107.5" fill="#a7bed0" stroke="#333" stroke-width="1.4" stroke-linejoin="round"/><path d="M1006.8,1131.5 L1051.3,1155.5 L1062.3,1151.5 M1051.3,1155.5 L1051.3,1177.5 M1059.3,1139.5 L1059.3,1163.5" fill="none" stroke="#445" stroke-width="0.9"/><ellipse cx="1079.3" cy="1151.5" rx="10" ry="12" fill="#9cb4c8" stroke="#333" stroke-width="1.1"/><circle cx="1080.3" cy="1152.5" r="4.5" fill="#e6e6e6" stroke="#333" stroke-width="1"/><circle cx="1088.3" cy="1129.5" r="3.5" fill="#e6e6e6" stroke="#333" stroke-width="0.9"/><circle cx="1047.3" cy="1176.5" r="3.5" fill="#e6e6e6" stroke="#333" stroke-width="0.9"/><polygon points="1031.3,1089.5 1039.3,1082.5 1069.3,1082.5 1078.3,1089.5 1078.3,1113.5 1069.3,1121.5 1039.3,1121.5 1031.3,1113.5" fill="#a7bed0" stroke="#333" stroke-width="1.4" stroke-linejoin="round"/><path d="M1031.3,1101.5 Q1054.3,1109.5 1078.3,1101.5 M1054.3,1091.5 L1054.3,1121.5" fill="none" stroke="#445" stroke-width="0.9"/><rect x="1040.8" y="1051.5" width="27" height="36" fill="#a7bed0" stroke="#333" stroke-width="1.4"/><ellipse cx="1054.3" cy="1051.5" rx="13.5" ry="6.8" fill="#a7bed0" stroke="#333" stroke-width="1.3"/><ellipse cx="1054.3" cy="1051.5" rx="7.5" ry="4" fill="#f4f2e2"/><ellipse cx="1063.3" cy="1075.5" rx="3.5" ry="5" fill="#eee" stroke="#333" stroke-width="1"/><g><line x1="1133" y1="180" x2="1169" y2="158" stroke="#8c8c8c" stroke-width="1.1"/><line x1="1188" y1="210" x2="1210" y2="199" stroke="#8c8c8c" stroke-width="1.1"/><line x1="1236" y1="240" x2="1274" y2="232" stroke="#8c8c8c" stroke-width="1.1"/><line x1="1275" y1="262" x2="1312" y2="252" stroke="#8c8c8c" stroke-width="1.1"/><line x1="1308" y1="282" x2="1337" y2="274" stroke="#8c8c8c" stroke-width="1.1"/><line x1="1336" y1="298" x2="1369" y2="290" stroke="#8c8c8c" stroke-width="1.1"/><line x1="1364" y1="313" x2="1400" y2="304" stroke="#8c8c8c" stroke-width="1.1"/><line x1="1391" y1="329" x2="1420" y2="315" stroke="#8c8c8c" stroke-width="1.1"/><line x1="1457" y1="214" x2="1452" y2="248" stroke="#8c8c8c" stroke-width="1.1"/><line x1="1247" y1="339" x2="1276" y2="345" stroke="#8c8c8c" stroke-width="1.1"/><line x1="1580" y1="214" x2="1577" y2="250" stroke="#8c8c8c" stroke-width="1.1"/><line x1="1685" y1="190" x2="1690" y2="215" stroke="#8c8c8c" stroke-width="1.1"/><line x1="1795" y1="212" x2="1800" y2="236" stroke="#8c8c8c" stroke-width="1.1"/><line x1="1877" y1="308" x2="1865" y2="283" stroke="#8c8c8c" stroke-width="1.1"/><line x1="1830" y1="330" x2="1820" y2="310" stroke="#8c8c8c" stroke-width="1.1"/><line x1="396" y1="523" x2="386" y2="565" stroke="#8c8c8c" stroke-width="1.1"/><line x1="446" y1="552" x2="440" y2="583" stroke="#8c8c8c" stroke-width="1.1"/><line x1="490" y1="578" x2="488" y2="622" stroke="#8c8c8c" stroke-width="1.1"/><line x1="538" y1="601" x2="540" y2="648" stroke="#8c8c8c" stroke-width="1.1"/><line x1="565" y1="622" x2="563" y2="668" stroke="#8c8c8c" stroke-width="1.1"/><line x1="592" y1="640" x2="585" y2="678" stroke="#8c8c8c" stroke-width="1.1"/><line x1="248" y1="628" x2="218" y2="655" stroke="#8c8c8c" stroke-width="1.1"/><line x1="292" y1="650" x2="272" y2="680" stroke="#8c8c8c" stroke-width="1.1"/><line x1="333" y1="675" x2="330" y2="710" stroke="#8c8c8c" stroke-width="1.1"/><line x1="368" y1="692" x2="365" y2="736" stroke="#8c8c8c" stroke-width="1.1"/><line x1="399" y1="710" x2="393" y2="744" stroke="#8c8c8c" stroke-width="1.1"/><line x1="428" y1="728" x2="420" y2="763" stroke="#8c8c8c" stroke-width="1.1"/><line x1="462" y1="750" x2="442" y2="773" stroke="#8c8c8c" stroke-width="1.1"/><line x1="432.5" y1="880" x2="447.5" y2="912.5" stroke="#8c8c8c" stroke-width="1.1"/><line x1="335" y1="934" x2="361" y2="934" stroke="#8c8c8c" stroke-width="1.1"/><line x1="375" y1="1025" x2="407.5" y2="1026" stroke="#8c8c8c" stroke-width="1.1"/><line x1="420" y1="1130" x2="417.5" y2="1102.5" stroke="#8c8c8c" stroke-width="1.1"/><line x1="465" y1="1107.5" x2="460" y2="1077.5" stroke="#8c8c8c" stroke-width="1.1"/><line x1="575" y1="1086" x2="591" y2="1065" stroke="#8c8c8c" stroke-width="1.1"/><line x1="607.5" y1="1107.5" x2="626" y2="1080" stroke="#8c8c8c" stroke-width="1.1"/><line x1="645" y1="1124" x2="665" y2="1102.5" stroke="#8c8c8c" stroke-width="1.1"/><line x1="687.5" y1="1147.5" x2="704" y2="1130" stroke="#8c8c8c" stroke-width="1.1"/><line x1="525" y1="886" x2="555" y2="884" stroke="#8c8c8c" stroke-width="1.1"/><line x1="525" y1="886" x2="557.5" y2="910" stroke="#8c8c8c" stroke-width="1.1"/><line x1="605" y1="997.5" x2="606" y2="960" stroke="#8c8c8c" stroke-width="1.1"/><line x1="662.5" y1="990" x2="645" y2="967.5" stroke="#8c8c8c" stroke-width="1.1"/><line x1="662.5" y1="990" x2="672" y2="970" stroke="#8c8c8c" stroke-width="1.1"/><line x1="583" y1="934" x2="589" y2="929" stroke="#8c8c8c" stroke-width="1.1"/><line x1="908" y1="1110" x2="929" y2="1093" stroke="#8c8c8c" stroke-width="1.1"/><line x1="940" y1="1128" x2="953" y2="1106.5" stroke="#8c8c8c" stroke-width="1.1"/><line x1="969" y1="1145" x2="978" y2="1124" stroke="#8c8c8c" stroke-width="1.1"/><line x1="1097" y1="1146.6" x2="1127" y2="1146.6" stroke="#8c8c8c" stroke-width="1.1"/><line x1="615" y1="775" x2="634" y2="784" stroke="#8c8c8c" stroke-width="1.1"/><line x1="790" y1="935" x2="802" y2="948" stroke="#8c8c8c" stroke-width="1.1"/><line x1="708" y1="974" x2="714" y2="998" stroke="#8c8c8c" stroke-width="1.1"/><line x1="833" y1="1024" x2="818" y2="1042" stroke="#8c8c8c" stroke-width="1.1"/><line x1="552" y1="757" x2="533" y2="782" stroke="#8c8c8c" stroke-width="1.1"/><line x1="777" y1="682" x2="796" y2="691" stroke="#8c8c8c" stroke-width="1.1"/><line x1="952" y1="842" x2="964" y2="855" stroke="#8c8c8c" stroke-width="1.1"/><line x1="870" y1="881" x2="876" y2="905" stroke="#8c8c8c" stroke-width="1.1"/><line x1="995" y1="931" x2="980" y2="949" stroke="#8c8c8c" stroke-width="1.1"/><line x1="714" y1="664" x2="695" y2="689" stroke="#8c8c8c" stroke-width="1.1"/><line x1="931" y1="595" x2="950" y2="604" stroke="#8c8c8c" stroke-width="1.1"/><line x1="1106" y1="755" x2="1118" y2="768" stroke="#8c8c8c" stroke-width="1.1"/><line x1="1024" y1="794" x2="1030" y2="818" stroke="#8c8c8c" stroke-width="1.1"/><line x1="1149" y1="844" x2="1134" y2="862" stroke="#8c8c8c" stroke-width="1.1"/><line x1="868" y1="577" x2="849" y2="602" stroke="#8c8c8c" stroke-width="1.1"/><line x1="1081" y1="510" x2="1100" y2="519" stroke="#8c8c8c" stroke-width="1.1"/><line x1="1256" y1="670" x2="1268" y2="683" stroke="#8c8c8c" stroke-width="1.1"/><line x1="1174" y1="709" x2="1180" y2="733" stroke="#8c8c8c" stroke-width="1.1"/><line x1="1299" y1="759" x2="1284" y2="777" stroke="#8c8c8c" stroke-width="1.1"/><line x1="1018" y1="492" x2="999" y2="517" stroke="#8c8c8c" stroke-width="1.1"/><line x1="1232" y1="424" x2="1251" y2="433" stroke="#8c8c8c" stroke-width="1.1"/><line x1="1407" y1="584" x2="1419" y2="597" stroke="#8c8c8c" stroke-width="1.1"/><line x1="1325" y1="623" x2="1331" y2="647" stroke="#8c8c8c" stroke-width="1.1"/><line x1="1450" y1="673" x2="1435" y2="691" stroke="#8c8c8c" stroke-width="1.1"/><line x1="1169" y1="406" x2="1150" y2="431" stroke="#8c8c8c" stroke-width="1.1"/><line x1="1367" y1="357" x2="1402" y2="357" stroke="#8c8c8c" stroke-width="1.1"/><line x1="1562" y1="496" x2="1574" y2="509" stroke="#8c8c8c" stroke-width="1.1"/><line x1="1480" y1="535" x2="1486" y2="559" stroke="#8c8c8c" stroke-width="1.1"/><line x1="1605" y1="585" x2="1590" y2="603" stroke="#8c8c8c" stroke-width="1.1"/><line x1="1717" y1="408" x2="1729" y2="421" stroke="#8c8c8c" stroke-width="1.1"/><line x1="1635" y1="447" x2="1641" y2="471" stroke="#8c8c8c" stroke-width="1.1"/><line x1="1760" y1="497" x2="1745" y2="515" stroke="#8c8c8c" stroke-width="1.1"/></g><g><text x="1125.0" y="199.2" font-size="22" text-anchor="middle" fill="#111" stroke="#111" stroke-width="0.45">25</text><text x="1174.0" y="227.2" font-size="22" text-anchor="middle" fill="#111" stroke="#111" stroke-width="0.45">24</text><text x="1218.5" y="254.2" font-size="22" text-anchor="middle" fill="#111" stroke="#111" stroke-width="0.45">23</text><text x="1259.0" y="276.2" font-size="22" text-anchor="middle" fill="#111" stroke="#111" stroke-width="0.45">22</text><text x="1289.0" y="294.2" font-size="22" text-anchor="middle" fill="#111" stroke="#111" stroke-width="0.45">21</text><text x="1318.0" y="309.2" font-size="22" text-anchor="middle" fill="#111" stroke="#111" stroke-width="0.45">20</text><text x="1349.0" y="326.2" font-size="22" text-anchor="middle" fill="#111" stroke="#111" stroke-width="0.45">19</text><text x="1377.5" y="342.2" font-size="22" text-anchor="middle" fill="#111" stroke="#111" stroke-width="0.45">18</text><text x="1458.0" y="213.2" font-size="22" text-anchor="middle" fill="#111" stroke="#111" stroke-width="0.45">14</text><text x="1231.5" y="342.2" font-size="22" text-anchor="middle" fill="#111" stroke="#111" stroke-width="0.45">14</text><text x="1352.5" y="364.2" font-size="22" text-anchor="middle" fill="#111" stroke="#111" stroke-width="0.45">17</text><text x="1178.5" y="404.2" font-size="22" text-anchor="middle" fill="#111" stroke="#111" stroke-width="0.45">14</text><text x="1582.0" y="214.2" font-size="22" text-anchor="middle" fill="#111" stroke="#111" stroke-width="0.45">17</text><text x="1676.0" y="189.2" font-size="22" text-anchor="middle" fill="#111" stroke="#111" stroke-width="0.45">16</text><text x="1787.0" y="211.2" font-size="22" text-anchor="middle" fill="#111" stroke="#111" stroke-width="0.45">15</text><text x="1880.0" y="325.2" font-size="22" text-anchor="middle" fill="#111" stroke="#111" stroke-width="0.45">10</text><text x="1832.0" y="347.2" font-size="22" text-anchor="middle" fill="#111" stroke="#111" stroke-width="0.45">9</text><text x="1744.0" y="433.2" font-size="22" text-anchor="middle" fill="#111" stroke="#111" stroke-width="0.45">14</text><text x="1647.5" y="490.2" font-size="22" text-anchor="middle" fill="#111" stroke="#111" stroke-width="0.45">42</text><text x="1749.0" y="554.2" font-size="22" text-anchor="middle" fill="#111" stroke="#111" stroke-width="0.45">40</text><text x="1490.5" y="577.2" font-size="22" text-anchor="middle" fill="#111" stroke="#111" stroke-width="0.45">42</text><text x="1585.0" y="526.2" font-size="22" text-anchor="middle" fill="#111" stroke="#111" stroke-width="0.45">14</text><text x="390.5" y="522.2" font-size="22" text-anchor="middle" fill="#111" stroke="#111" stroke-width="0.45">31</text><text x="441.0" y="551.2" font-size="22" text-anchor="middle" fill="#111" stroke="#111" stroke-width="0.45">30</text><text x="488.0" y="577.2" font-size="22" text-anchor="middle" fill="#111" stroke="#111" stroke-width="0.45">29</text><text x="537.5" y="601.2" font-size="22" text-anchor="middle" fill="#111" stroke="#111" stroke-width="0.45">28</text><text x="566.0" y="622.2" font-size="22" text-anchor="middle" fill="#111" stroke="#111" stroke-width="0.45">27</text><text x="595.0" y="640.2" font-size="22" text-anchor="middle" fill="#111" stroke="#111" stroke-width="0.45">26</text><text x="253.5" y="627.2" font-size="22" text-anchor="middle" fill="#111" stroke="#111" stroke-width="0.45">38</text><text x="296.0" y="650.2" font-size="22" text-anchor="middle" fill="#111" stroke="#111" stroke-width="0.45">37</text><text x="335.0" y="674.2" font-size="22" text-anchor="middle" fill="#111" stroke="#111" stroke-width="0.45">36</text><text x="370.0" y="691.2" font-size="22" text-anchor="middle" fill="#111" stroke="#111" stroke-width="0.45">35</text><text x="401.0" y="710.2" font-size="22" text-anchor="middle" fill="#111" stroke="#111" stroke-width="0.45">34</text><text x="432.5" y="727.2" font-size="22" text-anchor="middle" fill="#111" stroke="#111" stroke-width="0.45">33</text><text x="468.5" y="749.2" font-size="22" text-anchor="middle" fill="#111" stroke="#111" stroke-width="0.45">32</text><text x="560.0" y="752.2" font-size="22" text-anchor="middle" fill="#111" stroke="#111" stroke-width="0.45">14</text><text x="601.5" y="777.2" font-size="22" text-anchor="middle" fill="#111" stroke="#111" stroke-width="0.45">17</text><text x="430.0" y="879.2" font-size="22" text-anchor="middle" fill="#111" stroke="#111" stroke-width="0.45">13</text><text x="318.5" y="942.2" font-size="22" text-anchor="middle" fill="#111" stroke="#111" stroke-width="0.45">12</text><text x="356.5" y="1034.2" font-size="22" text-anchor="middle" fill="#111" stroke="#111" stroke-width="0.45">11</text><text x="423.0" y="1148.2" font-size="22" text-anchor="middle" fill="#111" stroke="#111" stroke-width="0.45">10</text><text x="464.5" y="1126.2" font-size="22" text-anchor="middle" fill="#111" stroke="#111" stroke-width="0.45">9</text><text x="567.0" y="1103.2" font-size="22" text-anchor="middle" fill="#111" stroke="#111" stroke-width="0.45">8</text><text x="601.0" y="1125.2" font-size="22" text-anchor="middle" fill="#111" stroke="#111" stroke-width="0.45">7</text><text x="637.0" y="1144.2" font-size="22" text-anchor="middle" fill="#111" stroke="#111" stroke-width="0.45">6</text><text x="679.5" y="1165.2" font-size="22" text-anchor="middle" fill="#111" stroke="#111" stroke-width="0.45">5</text><text x="507.5" y="892.2" font-size="22" text-anchor="middle" fill="#111" stroke="#111" stroke-width="0.45">44</text><text x="574.0" y="954.2" font-size="22" text-anchor="middle" fill="#111" stroke="#111" stroke-width="0.45">44</text><text x="601.0" y="1012.2" font-size="22" text-anchor="middle" fill="#111" stroke="#111" stroke-width="0.45">43</text><text x="663.0" y="1009.2" font-size="22" text-anchor="middle" fill="#111" stroke="#111" stroke-width="0.45">44</text><text x="704.0" y="1020.2" font-size="22" text-anchor="middle" fill="#111" stroke="#111" stroke-width="0.45">42</text><text x="872.0" y="926.2" font-size="22" text-anchor="middle" fill="#111" stroke="#111" stroke-width="0.45">42</text><text x="826.0" y="961.2" font-size="22" text-anchor="middle" fill="#111" stroke="#111" stroke-width="0.45">14</text><text x="988.0" y="987.2" font-size="22" text-anchor="middle" fill="#111" stroke="#111" stroke-width="0.45">40</text><text x="812.5" y="1080.2" font-size="22" text-anchor="middle" fill="#111" stroke="#111" stroke-width="0.45">41</text><text x="1138.5" y="900.2" font-size="22" text-anchor="middle" fill="#111" stroke="#111" stroke-width="0.45">41</text><text x="898.5" y="1128.2" font-size="22" text-anchor="middle" fill="#111" stroke="#111" stroke-width="0.45">4</text><text x="930.5" y="1144.2" font-size="22" text-anchor="middle" fill="#111" stroke="#111" stroke-width="0.45">3</text><text x="960.5" y="1163.2" font-size="22" text-anchor="middle" fill="#111" stroke="#111" stroke-width="0.45">2</text><text x="1135.5" y="1155.2" font-size="22" text-anchor="middle" fill="#111" stroke="#111" stroke-width="0.45">1</text><text x="972.5" y="874.2" font-size="22" text-anchor="middle" fill="#111" stroke="#111" stroke-width="0.45">14</text><text x="1032.5" y="840.2" font-size="22" text-anchor="middle" fill="#111" stroke="#111" stroke-width="0.45">42</text><text x="1129.0" y="788.2" font-size="22" text-anchor="middle" fill="#111" stroke="#111" stroke-width="0.45">14</text><text x="1182.0" y="756.2" font-size="22" text-anchor="middle" fill="#111" stroke="#111" stroke-width="0.45">42</text><text x="1279.0" y="700.2" font-size="22" text-anchor="middle" fill="#111" stroke="#111" stroke-width="0.45">14</text><text x="1292.0" y="815.2" font-size="22" text-anchor="middle" fill="#111" stroke="#111" stroke-width="0.45">40</text><text x="1336.0" y="675.2" font-size="22" text-anchor="middle" fill="#111" stroke="#111" stroke-width="0.45">42</text><text x="1219.5" y="430.2" font-size="22" text-anchor="middle" fill="#111" stroke="#111" stroke-width="0.45">17</text><text x="1025.5" y="489.2" font-size="22" text-anchor="middle" fill="#111" stroke="#111" stroke-width="0.45">14</text><text x="1067.5" y="514.2" font-size="22" text-anchor="middle" fill="#111" stroke="#111" stroke-width="0.45">17</text><text x="877.5" y="575.2" font-size="22" text-anchor="middle" fill="#111" stroke="#111" stroke-width="0.45">14</text><text x="920.5" y="598.2" font-size="22" text-anchor="middle" fill="#111" stroke="#111" stroke-width="0.45">17</text><text x="727.5" y="661.2" font-size="22" text-anchor="middle" fill="#111" stroke="#111" stroke-width="0.45">14</text><text x="773.5" y="682.2" font-size="22" text-anchor="middle" fill="#111" stroke="#111" stroke-width="0.45">17</text><text x="1428.5" y="614.2" font-size="22" text-anchor="middle" fill="#111" stroke="#111" stroke-width="0.45">14</text><text x="1438.5" y="728.2" font-size="22" text-anchor="middle" fill="#111" stroke="#111" stroke-width="0.45">40</text><text x="1595.5" y="642.2" font-size="22" text-anchor="middle" fill="#111" stroke="#111" stroke-width="0.45">40</text></g><rect x="1404.2" y="915.6" width="46.3" height="45.5" fill="none" stroke="#000" stroke-width="4"/><text x="1427" y="952.6" font-size="37" text-anchor="middle" fill="#000">A</text><text x="183.5" y="516.9" font-size="34" font-weight="bold" text-anchor="middle" fill="#000" stroke="#000" stroke-width="0.7">A</text><text x="133.5" y="93" font-size="26" font-weight="bold" fill="#000" textLength="498.5" lengthAdjust="spacingAndGlyphs">DIRECTION VALVE / RIKTNINGSVENTIL</text><text x="936.5" y="93.2" font-size="26.5" font-weight="bold" fill="#000" textLength="160.5" lengthAdjust="spacingAndGlyphs">3128 2090 95</text><text x="1716.5" y="1168.5" font-size="31" fill="#000" stroke="#000" stroke-width="0.4" textLength="182.5" lengthAdjust="spacingAndGlyphs">1250 0321 67</text><text x="979" y="1334" font-size="24" fill="#000" stroke="#000" stroke-width="0.35" textLength="41" lengthAdjust="spacingAndGlyphs">620</text><text x="135.6" y="1333" font-size="24" fill="#000" stroke="#000" stroke-width="0.4" textLength="102.4" lengthAdjust="spacingAndGlyphs">50063446</text><text x="80" y="1334" font-size="74" fill="#000" textLength="484" lengthAdjust="spacingAndGlyphs">by AtlasCopco</text></svg></body></html>
